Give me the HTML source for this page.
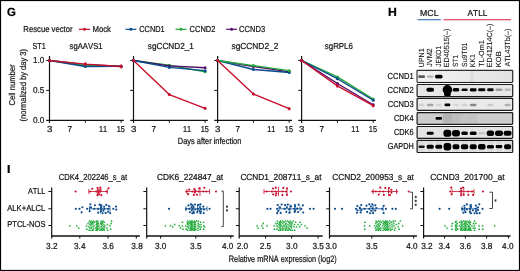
<!DOCTYPE html>
<html><head><meta charset="utf-8"><style>
html,body{margin:0;padding:0;background:#fff;}
svg{display:block;will-change:transform;font-family:"Liberation Sans",sans-serif;text-rendering:geometricPrecision;font-kerning:none;}
</style></head><body>
<svg width="520" height="271" viewBox="0 0 520 271">
<defs><linearGradient id="gr1" x1="0" x2="1" y1="0" y2="0"><stop offset="0" stop-color="#f1f1f1"/><stop offset="0.55" stop-color="#e9e9e9"/><stop offset="1" stop-color="#e2e2e2"/></linearGradient><filter id="blur" x="-20%" y="-50%" width="140%" height="200%"><feGaussianBlur stdDeviation="0.65"/></filter><clipPath id="clipCCND1"><rect x="417.7" y="70.89999999999999" width="94.4" height="10.9"/></clipPath><clipPath id="clipCCND2"><rect x="417.7" y="85.1" width="94.4" height="10.9"/></clipPath><clipPath id="clipCCND3"><rect x="417.7" y="98.89999999999999" width="94.4" height="10.8"/></clipPath><clipPath id="clipCDK4"><rect x="417.7" y="113.19999999999999" width="94.4" height="10.6"/></clipPath><clipPath id="clipCDK6"><rect x="417.7" y="127.1" width="94.4" height="10.7"/></clipPath><clipPath id="clipGAPDH"><rect x="417.7" y="141.0" width="94.4" height="10.9"/></clipPath></defs>
<rect x="0" y="0" width="520" height="271" fill="#fff"/>
<text x="6.93" y="15.6" font-size="11.8" fill="#000" stroke="#000" stroke-width="0.22" textLength="8.88" lengthAdjust="spacingAndGlyphs" font-weight="bold">G</text>
<text x="23.37" y="31.7" font-size="8.7" fill="#151515" stroke="#151515" stroke-width="0.22" textLength="49.16" lengthAdjust="spacingAndGlyphs">Rescue vector</text>
<line x1="78.90" y1="29.30" x2="90.20" y2="29.30" stroke="#c8102e" stroke-width="1.2"/>
<circle cx="84.55" cy="29.30" r="1.5" fill="#c8102e"/>
<text x="92.46" y="31.6" font-size="8.7" fill="#151515" stroke="#151515" stroke-width="0.22" textLength="18.52" lengthAdjust="spacingAndGlyphs">Mock</text>
<line x1="125.50" y1="29.30" x2="136.30" y2="29.30" stroke="#0b4a8b" stroke-width="1.2"/>
<circle cx="130.90" cy="29.30" r="1.5" fill="#0b4a8b"/>
<text x="139.23" y="31.6" font-size="8.7" fill="#151515" stroke="#151515" stroke-width="0.22" textLength="25.44" lengthAdjust="spacingAndGlyphs">CCND1</text>
<line x1="175.50" y1="29.30" x2="186.50" y2="29.30" stroke="#22aa3c" stroke-width="1.2"/>
<circle cx="181.00" cy="29.30" r="1.5" fill="#22aa3c"/>
<text x="189.62" y="31.6" font-size="8.7" fill="#151515" stroke="#151515" stroke-width="0.22" textLength="25.76" lengthAdjust="spacingAndGlyphs">CCND2</text>
<line x1="226.20" y1="29.30" x2="236.90" y2="29.30" stroke="#520c6a" stroke-width="1.2"/>
<circle cx="231.55" cy="29.30" r="1.5" fill="#520c6a"/>
<text x="239.12" y="31.6" font-size="8.7" fill="#151515" stroke="#151515" stroke-width="0.22" textLength="26.02" lengthAdjust="spacingAndGlyphs">CCND3</text>
<text x="32.57" y="49.4" font-size="8.7" fill="#151515" stroke="#151515" stroke-width="0.22" textLength="13.18" lengthAdjust="spacingAndGlyphs">ST1</text>
<text x="69.59" y="49.4" font-size="8.7" fill="#151515" stroke="#151515" stroke-width="0.22" textLength="32.99" lengthAdjust="spacingAndGlyphs">sgAAVS1</text>
<text x="147.87" y="49.4" font-size="8.7" fill="#151515" stroke="#151515" stroke-width="0.22" textLength="46.03" lengthAdjust="spacingAndGlyphs">sgCCND2_1</text>
<text x="231.47" y="49.4" font-size="8.7" fill="#151515" stroke="#151515" stroke-width="0.22" textLength="46.85" lengthAdjust="spacingAndGlyphs">sgCCND2_2</text>
<text x="324.78" y="49.4" font-size="8.7" fill="#151515" stroke="#151515" stroke-width="0.22" textLength="28.17" lengthAdjust="spacingAndGlyphs">sgRPL6</text>
<line x1="49.50" y1="55.90" x2="49.50" y2="122.90" stroke="#111" stroke-width="1.2"/>
<line x1="46.20" y1="120.30" x2="123.90" y2="120.30" stroke="#111" stroke-width="1.3"/>
<line x1="46.20" y1="60.50" x2="49.50" y2="60.50" stroke="#111" stroke-width="1.0"/>
<line x1="46.20" y1="90.40" x2="49.50" y2="90.40" stroke="#111" stroke-width="1.0"/>
<line x1="85.30" y1="120.30" x2="85.30" y2="122.80" stroke="#111" stroke-width="1.0"/>
<line x1="121.10" y1="120.30" x2="121.10" y2="122.80" stroke="#111" stroke-width="1.0"/>
<text x="46.93" y="132.1" font-size="8.7" fill="#151515" stroke="#151515" stroke-width="0.22" textLength="5.40" lengthAdjust="spacingAndGlyphs">3</text>
<text x="67.38" y="132.1" font-size="8.7" fill="#151515" stroke="#151515" stroke-width="0.22" textLength="4.53" lengthAdjust="spacingAndGlyphs">7</text>
<text x="99.04" y="132.1" font-size="8.7" fill="#151515" stroke="#151515" stroke-width="0.22" textLength="8.11" lengthAdjust="spacingAndGlyphs">11</text>
<text x="116.74" y="132.1" font-size="8.7" fill="#151515" stroke="#151515" stroke-width="0.22" textLength="8.17" lengthAdjust="spacingAndGlyphs">15</text>
<polyline points="49.50,60.50 85.30,64.69 121.10,66.18" fill="none" stroke="#520c6a" stroke-width="1.4" stroke-linejoin="round"/>
<circle cx="49.50" cy="60.50" r="1.5" fill="#520c6a"/>
<circle cx="85.30" cy="64.69" r="1.5" fill="#520c6a"/>
<circle cx="121.10" cy="66.18" r="1.5" fill="#520c6a"/>
<polyline points="49.50,60.50 85.30,65.28 121.10,66.48" fill="none" stroke="#22aa3c" stroke-width="1.4" stroke-linejoin="round"/>
<circle cx="49.50" cy="60.50" r="1.5" fill="#22aa3c"/>
<circle cx="85.30" cy="65.28" r="1.5" fill="#22aa3c"/>
<circle cx="121.10" cy="66.48" r="1.5" fill="#22aa3c"/>
<polyline points="49.50,60.50 85.30,66.48 121.10,66.18" fill="none" stroke="#0b4a8b" stroke-width="1.4" stroke-linejoin="round"/>
<circle cx="49.50" cy="60.50" r="1.5" fill="#0b4a8b"/>
<circle cx="85.30" cy="66.48" r="1.5" fill="#0b4a8b"/>
<circle cx="121.10" cy="66.18" r="1.5" fill="#0b4a8b"/>
<polyline points="49.50,60.50 85.30,64.09 121.10,66.48" fill="none" stroke="#c8102e" stroke-width="1.4" stroke-linejoin="round"/>
<circle cx="49.50" cy="60.50" r="1.5" fill="#c8102e"/>
<circle cx="85.30" cy="64.09" r="1.5" fill="#c8102e"/>
<circle cx="121.10" cy="66.48" r="1.5" fill="#c8102e"/>
<line x1="85.30" y1="61.79" x2="85.30" y2="66.39" stroke="#c8102e" stroke-width="0.9"/>
<line x1="121.10" y1="64.18" x2="121.10" y2="68.78" stroke="#c8102e" stroke-width="0.9"/>
<line x1="133.50" y1="55.90" x2="133.50" y2="122.90" stroke="#111" stroke-width="1.2"/>
<line x1="130.20" y1="120.30" x2="207.90" y2="120.30" stroke="#111" stroke-width="1.3"/>
<line x1="130.20" y1="60.50" x2="133.50" y2="60.50" stroke="#111" stroke-width="1.0"/>
<line x1="130.20" y1="90.40" x2="133.50" y2="90.40" stroke="#111" stroke-width="1.0"/>
<line x1="169.30" y1="120.30" x2="169.30" y2="122.80" stroke="#111" stroke-width="1.0"/>
<line x1="205.10" y1="120.30" x2="205.10" y2="122.80" stroke="#111" stroke-width="1.0"/>
<text x="130.93" y="132.1" font-size="8.7" fill="#151515" stroke="#151515" stroke-width="0.22" textLength="5.40" lengthAdjust="spacingAndGlyphs">3</text>
<text x="151.38" y="132.1" font-size="8.7" fill="#151515" stroke="#151515" stroke-width="0.22" textLength="4.53" lengthAdjust="spacingAndGlyphs">7</text>
<text x="183.04" y="132.1" font-size="8.7" fill="#151515" stroke="#151515" stroke-width="0.22" textLength="8.11" lengthAdjust="spacingAndGlyphs">11</text>
<text x="200.74" y="132.1" font-size="8.7" fill="#151515" stroke="#151515" stroke-width="0.22" textLength="8.17" lengthAdjust="spacingAndGlyphs">15</text>
<polyline points="133.50,60.50 169.30,65.28 205.10,71.86" fill="none" stroke="#22aa3c" stroke-width="1.4" stroke-linejoin="round"/>
<circle cx="133.50" cy="60.50" r="1.5" fill="#22aa3c"/>
<circle cx="169.30" cy="65.28" r="1.5" fill="#22aa3c"/>
<circle cx="205.10" cy="71.86" r="1.5" fill="#22aa3c"/>
<polyline points="133.50,60.50 169.30,65.88 205.10,67.68" fill="none" stroke="#520c6a" stroke-width="1.4" stroke-linejoin="round"/>
<circle cx="133.50" cy="60.50" r="1.5" fill="#520c6a"/>
<circle cx="169.30" cy="65.88" r="1.5" fill="#520c6a"/>
<circle cx="205.10" cy="67.68" r="1.5" fill="#520c6a"/>
<polyline points="133.50,60.50 169.30,67.38 205.10,70.67" fill="none" stroke="#0b4a8b" stroke-width="1.4" stroke-linejoin="round"/>
<circle cx="133.50" cy="60.50" r="1.5" fill="#0b4a8b"/>
<circle cx="169.30" cy="67.38" r="1.5" fill="#0b4a8b"/>
<circle cx="205.10" cy="70.67" r="1.5" fill="#0b4a8b"/>
<polyline points="133.50,60.50 169.30,94.59 205.10,108.34" fill="none" stroke="#c8102e" stroke-width="1.4" stroke-linejoin="round"/>
<circle cx="133.50" cy="60.50" r="1.5" fill="#c8102e"/>
<circle cx="169.30" cy="94.59" r="1.5" fill="#c8102e"/>
<circle cx="205.10" cy="108.34" r="1.5" fill="#c8102e"/>
<line x1="169.30" y1="93.09" x2="169.30" y2="96.09" stroke="#c8102e" stroke-width="0.9"/>
<line x1="205.10" y1="106.84" x2="205.10" y2="109.84" stroke="#c8102e" stroke-width="0.9"/>
<line x1="217.60" y1="55.90" x2="217.60" y2="122.90" stroke="#111" stroke-width="1.2"/>
<line x1="214.30" y1="120.30" x2="292.00" y2="120.30" stroke="#111" stroke-width="1.3"/>
<line x1="214.30" y1="60.50" x2="217.60" y2="60.50" stroke="#111" stroke-width="1.0"/>
<line x1="214.30" y1="90.40" x2="217.60" y2="90.40" stroke="#111" stroke-width="1.0"/>
<line x1="253.40" y1="120.30" x2="253.40" y2="122.80" stroke="#111" stroke-width="1.0"/>
<line x1="289.20" y1="120.30" x2="289.20" y2="122.80" stroke="#111" stroke-width="1.0"/>
<text x="215.03" y="132.1" font-size="8.7" fill="#151515" stroke="#151515" stroke-width="0.22" textLength="5.40" lengthAdjust="spacingAndGlyphs">3</text>
<text x="235.48" y="132.1" font-size="8.7" fill="#151515" stroke="#151515" stroke-width="0.22" textLength="4.53" lengthAdjust="spacingAndGlyphs">7</text>
<text x="267.14" y="132.1" font-size="8.7" fill="#151515" stroke="#151515" stroke-width="0.22" textLength="8.11" lengthAdjust="spacingAndGlyphs">11</text>
<text x="284.84" y="132.1" font-size="8.7" fill="#151515" stroke="#151515" stroke-width="0.22" textLength="8.17" lengthAdjust="spacingAndGlyphs">15</text>
<polyline points="217.60,60.50 253.40,66.48 289.20,71.86" fill="none" stroke="#520c6a" stroke-width="1.4" stroke-linejoin="round"/>
<circle cx="217.60" cy="60.50" r="1.5" fill="#520c6a"/>
<circle cx="253.40" cy="66.48" r="1.5" fill="#520c6a"/>
<circle cx="289.20" cy="71.86" r="1.5" fill="#520c6a"/>
<polyline points="217.60,60.50 253.40,69.47 289.20,72.46" fill="none" stroke="#0b4a8b" stroke-width="1.4" stroke-linejoin="round"/>
<circle cx="217.60" cy="60.50" r="1.5" fill="#0b4a8b"/>
<circle cx="253.40" cy="69.47" r="1.5" fill="#0b4a8b"/>
<circle cx="289.20" cy="72.46" r="1.5" fill="#0b4a8b"/>
<polyline points="217.60,60.50 253.40,65.58 289.20,70.67" fill="none" stroke="#22aa3c" stroke-width="1.4" stroke-linejoin="round"/>
<circle cx="217.60" cy="60.50" r="1.5" fill="#22aa3c"/>
<circle cx="253.40" cy="65.58" r="1.5" fill="#22aa3c"/>
<circle cx="289.20" cy="70.67" r="1.5" fill="#22aa3c"/>
<polyline points="217.60,60.50 253.40,93.99 289.20,108.64" fill="none" stroke="#c8102e" stroke-width="1.4" stroke-linejoin="round"/>
<circle cx="217.60" cy="60.50" r="1.5" fill="#c8102e"/>
<circle cx="253.40" cy="93.99" r="1.5" fill="#c8102e"/>
<circle cx="289.20" cy="108.64" r="1.5" fill="#c8102e"/>
<line x1="253.40" y1="92.49" x2="253.40" y2="95.49" stroke="#c8102e" stroke-width="0.9"/>
<line x1="289.20" y1="107.14" x2="289.20" y2="110.14" stroke="#c8102e" stroke-width="0.9"/>
<line x1="301.60" y1="55.90" x2="301.60" y2="122.90" stroke="#111" stroke-width="1.2"/>
<line x1="298.30" y1="120.30" x2="376.00" y2="120.30" stroke="#111" stroke-width="1.3"/>
<line x1="298.30" y1="60.50" x2="301.60" y2="60.50" stroke="#111" stroke-width="1.0"/>
<line x1="298.30" y1="90.40" x2="301.60" y2="90.40" stroke="#111" stroke-width="1.0"/>
<line x1="337.40" y1="120.30" x2="337.40" y2="122.80" stroke="#111" stroke-width="1.0"/>
<line x1="373.20" y1="120.30" x2="373.20" y2="122.80" stroke="#111" stroke-width="1.0"/>
<text x="299.03" y="132.1" font-size="8.7" fill="#151515" stroke="#151515" stroke-width="0.22" textLength="5.40" lengthAdjust="spacingAndGlyphs">3</text>
<text x="319.48" y="132.1" font-size="8.7" fill="#151515" stroke="#151515" stroke-width="0.22" textLength="4.53" lengthAdjust="spacingAndGlyphs">7</text>
<text x="351.14" y="132.1" font-size="8.7" fill="#151515" stroke="#151515" stroke-width="0.22" textLength="8.11" lengthAdjust="spacingAndGlyphs">11</text>
<text x="368.84" y="132.1" font-size="8.7" fill="#151515" stroke="#151515" stroke-width="0.22" textLength="8.17" lengthAdjust="spacingAndGlyphs">15</text>
<polyline points="301.60,60.50 337.40,76.94 373.20,99.07" fill="none" stroke="#22aa3c" stroke-width="1.4" stroke-linejoin="round"/>
<circle cx="301.60" cy="60.50" r="1.5" fill="#22aa3c"/>
<circle cx="337.40" cy="76.94" r="1.5" fill="#22aa3c"/>
<circle cx="373.20" cy="99.07" r="1.5" fill="#22aa3c"/>
<polyline points="301.60,60.50 337.40,78.74 373.20,100.27" fill="none" stroke="#0b4a8b" stroke-width="1.4" stroke-linejoin="round"/>
<circle cx="301.60" cy="60.50" r="1.5" fill="#0b4a8b"/>
<circle cx="337.40" cy="78.74" r="1.5" fill="#0b4a8b"/>
<circle cx="373.20" cy="100.27" r="1.5" fill="#0b4a8b"/>
<polyline points="301.60,60.50 337.40,83.52 373.20,104.75" fill="none" stroke="#520c6a" stroke-width="1.4" stroke-linejoin="round"/>
<circle cx="301.60" cy="60.50" r="1.5" fill="#520c6a"/>
<circle cx="337.40" cy="83.52" r="1.5" fill="#520c6a"/>
<circle cx="373.20" cy="104.75" r="1.5" fill="#520c6a"/>
<polyline points="301.60,60.50 337.40,85.91 373.20,105.65" fill="none" stroke="#c8102e" stroke-width="1.4" stroke-linejoin="round"/>
<circle cx="301.60" cy="60.50" r="1.5" fill="#c8102e"/>
<circle cx="337.40" cy="85.91" r="1.5" fill="#c8102e"/>
<circle cx="373.20" cy="105.65" r="1.5" fill="#c8102e"/>
<line x1="337.40" y1="84.41" x2="337.40" y2="87.41" stroke="#c8102e" stroke-width="0.9"/>
<line x1="373.20" y1="104.15" x2="373.20" y2="107.15" stroke="#c8102e" stroke-width="0.9"/>
<text x="32.98" y="63.3" font-size="8.7" fill="#151515" stroke="#151515" stroke-width="0.22" textLength="11.34" lengthAdjust="spacingAndGlyphs">1.0</text>
<text x="32.88" y="93.2" font-size="8.7" fill="#151515" stroke="#151515" stroke-width="0.22" textLength="11.47" lengthAdjust="spacingAndGlyphs">0.5</text>
<text x="32.88" y="123.1" font-size="8.7" fill="#151515" stroke="#151515" stroke-width="0.22" textLength="11.44" lengthAdjust="spacingAndGlyphs">0.0</text>
<text x="177.79" y="144" font-size="8.9" fill="#151515" stroke="#151515" stroke-width="0.22" textLength="63.59" lengthAdjust="spacingAndGlyphs">Days after infection</text>
<text transform="translate(14.6,105.2) rotate(-90)" x="-0.39" y="0" font-size="8.6" fill="#151515" stroke="#151515" stroke-width="0.22" textLength="41.11" lengthAdjust="spacingAndGlyphs">Cell number</text>
<text transform="translate(26.4,121) rotate(-90)" x="-0.47" y="0" font-size="8.6" fill="#151515" stroke="#151515" stroke-width="0.22" textLength="72.54" lengthAdjust="spacingAndGlyphs">(normalized by day 3)</text>
<text x="387.98" y="15.5" font-size="12" fill="#000" stroke="#000" stroke-width="0.22" textLength="8.84" lengthAdjust="spacingAndGlyphs" font-weight="bold">H</text>
<text x="420.08" y="15.5" font-size="8.7" fill="#151515" stroke="#151515" stroke-width="0.22" textLength="18.40" lengthAdjust="spacingAndGlyphs">MCL</text>
<text x="467.58" y="15.5" font-size="8.7" fill="#151515" stroke="#151515" stroke-width="0.22" textLength="19.79" lengthAdjust="spacingAndGlyphs">ATLL</text>
<line x1="417.50" y1="19.70" x2="440.80" y2="19.70" stroke="#2b6cb0" stroke-width="1.1"/>
<line x1="443.40" y1="19.70" x2="511.00" y2="19.70" stroke="#d4233f" stroke-width="1.1"/>
<text transform="translate(423.6,66.6) rotate(-90)" x="-0.54" y="0" font-size="7.4" fill="#151515" stroke="#151515" stroke-width="0.1" textLength="18.68" lengthAdjust="spacingAndGlyphs">UPN1</text>
<text transform="translate(432.19,66.6) rotate(-90)" x="-0.11" y="0" font-size="7.4" fill="#151515" stroke="#151515" stroke-width="0.1" textLength="18.27" lengthAdjust="spacingAndGlyphs">JVM2</text>
<text transform="translate(440.78,66.6) rotate(-90)" x="-0.10" y="0" font-size="7.4" fill="#151515" stroke="#151515" stroke-width="0.1" textLength="20.72" lengthAdjust="spacingAndGlyphs">JEKO1</text>
<text transform="translate(449.37,66.6) rotate(-90)" x="-0.59" y="0" font-size="7.4" fill="#151515" stroke="#151515" stroke-width="0.1" textLength="38.53" lengthAdjust="spacingAndGlyphs">ED40515(–)</text>
<text transform="translate(457.96,66.6) rotate(-90)" x="-0.30" y="0" font-size="7.4" fill="#151515" stroke="#151515" stroke-width="0.1" textLength="12.02" lengthAdjust="spacingAndGlyphs">ST1</text>
<text transform="translate(466.55,66.6) rotate(-90)" x="-0.31" y="0" font-size="7.4" fill="#151515" stroke="#151515" stroke-width="0.1" textLength="24.25" lengthAdjust="spacingAndGlyphs">Su9T01</text>
<text transform="translate(475.14,66.6) rotate(-90)" x="-0.56" y="0" font-size="7.4" fill="#151515" stroke="#151515" stroke-width="0.1" textLength="13.00" lengthAdjust="spacingAndGlyphs">KK1</text>
<text transform="translate(483.73,66.6) rotate(-90)" x="-0.16" y="0" font-size="7.4" fill="#151515" stroke="#151515" stroke-width="0.1" textLength="26.52" lengthAdjust="spacingAndGlyphs">TL-Om1</text>
<text transform="translate(492.32,66.6) rotate(-90)" x="-0.58" y="0" font-size="7.4" fill="#151515" stroke="#151515" stroke-width="0.1" textLength="43.53" lengthAdjust="spacingAndGlyphs">ED41214C(–)</text>
<text transform="translate(500.91,66.6) rotate(-90)" x="-0.62" y="0" font-size="7.4" fill="#151515" stroke="#151515" stroke-width="0.1" textLength="15.92" lengthAdjust="spacingAndGlyphs">KOB</text>
<text transform="translate(509.5,66.6) rotate(-90)" x="-0.01" y="0" font-size="7.4" fill="#151515" stroke="#151515" stroke-width="0.1" textLength="37.96" lengthAdjust="spacingAndGlyphs">ATL43Tb(–)</text>
<text x="387.62" y="79.2" font-size="8.7" fill="#151515" stroke="#151515" stroke-width="0.22" textLength="26.05" lengthAdjust="spacingAndGlyphs">CCND1</text>
<text x="387.62" y="92.9" font-size="8.7" fill="#151515" stroke="#151515" stroke-width="0.22" textLength="26.06" lengthAdjust="spacingAndGlyphs">CCND2</text>
<text x="387.72" y="107.2" font-size="8.7" fill="#151515" stroke="#151515" stroke-width="0.22" textLength="25.91" lengthAdjust="spacingAndGlyphs">CCND3</text>
<text x="393.93" y="121.1" font-size="8.7" fill="#151515" stroke="#151515" stroke-width="0.22" textLength="19.59" lengthAdjust="spacingAndGlyphs">CDK4</text>
<text x="393.92" y="134.8" font-size="8.7" fill="#151515" stroke="#151515" stroke-width="0.22" textLength="19.70" lengthAdjust="spacingAndGlyphs">CDK6</text>
<text x="387.73" y="148.6" font-size="8.7" fill="#151515" stroke="#151515" stroke-width="0.22" textLength="26.17" lengthAdjust="spacingAndGlyphs">GAPDH</text>
<rect x="417.1" y="70.3" width="95.6" height="12.1" rx="0.8" fill="#e9e9e9" stroke="#1a1a1a" stroke-width="1.2"/>
<rect x="417.7" y="70.89999999999999" width="94.4" height="10.9" fill="url(#gr1)"/>
<rect x="470.5" y="70.89999999999999" width="3" height="10.9" fill="#000" fill-opacity="0.06" filter="url(#blur)"/>
<g clip-path="url(#clipCCND1)" filter="url(#blur)">
<rect x="418.20" y="75.20" width="6.8" height="2.8" rx="1.26" fill="#000" fill-opacity="0.62"/>
<rect x="426.95" y="75.40" width="6.5" height="2.4" rx="1.08" fill="#000" fill-opacity="0.25"/>
<rect x="435.00" y="74.80" width="7.6" height="3.6" rx="1.62" fill="#000" fill-opacity="1.0"/>
</g>
<rect x="417.1" y="84.5" width="95.6" height="12.1" rx="0.8" fill="#e6e6e6" stroke="#1a1a1a" stroke-width="1.2"/>
<g clip-path="url(#clipCCND2)" filter="url(#blur)">
<rect x="426.40" y="87.80" width="7.6" height="4" rx="1.80" fill="#000" fill-opacity="1.0"/>
<rect x="452.70" y="88.10" width="6.6" height="3.4" rx="1.53" fill="#000" fill-opacity="1.0"/>
<rect x="461.50" y="88.50" width="6.2" height="2.6" rx="1.17" fill="#000" fill-opacity="0.95"/>
<rect x="469.80" y="88.20" width="6.8" height="3.2" rx="1.44" fill="#000" fill-opacity="1.0"/>
<rect x="478.20" y="88.30" width="7.2" height="3" rx="1.35" fill="#000" fill-opacity="1.0"/>
<rect x="487.10" y="88.30" width="6.6" height="3" rx="1.35" fill="#000" fill-opacity="0.95"/>
<rect x="495.50" y="88.55" width="7" height="2.5" rx="1.12" fill="#000" fill-opacity="0.32"/>
<rect x="504.50" y="88.55" width="6.2" height="2.5" rx="1.12" fill="#000" fill-opacity="0.2"/>
<ellipse cx="447.40" cy="89.8" rx="4.8" ry="4.7" fill="#000"/>
<rect x="444.10" y="89" width="6.6" height="7.6" rx="2" fill="#000"/>
</g>
<rect x="417.1" y="98.3" width="95.6" height="12.0" rx="0.8" fill="#eaeaea" stroke="#1a1a1a" stroke-width="1.2"/>
<g clip-path="url(#clipCCND3)" filter="url(#blur)">
<rect x="418.60" y="103.65" width="6" height="2.5" rx="1.12" fill="#000" fill-opacity="0.1"/>
<rect x="426.95" y="103.65" width="6.5" height="2.5" rx="1.12" fill="#000" fill-opacity="0.3"/>
<rect x="435.80" y="103.65" width="6" height="2.5" rx="1.12" fill="#000" fill-opacity="0.1"/>
<rect x="444.50" y="103.60" width="5.8" height="2.6" rx="1.17" fill="#000" fill-opacity="1.0"/>
<rect x="453.00" y="103.65" width="6" height="2.5" rx="1.12" fill="#000" fill-opacity="0.08"/>
<rect x="461.60" y="103.65" width="6" height="2.5" rx="1.12" fill="#000" fill-opacity="0.1"/>
<rect x="469.95" y="103.65" width="6.5" height="2.5" rx="1.12" fill="#000" fill-opacity="0.42"/>
<rect x="487.40" y="103.65" width="6" height="2.5" rx="1.12" fill="#000" fill-opacity="0.15"/>
<rect x="504.60" y="103.65" width="6" height="2.5" rx="1.12" fill="#000" fill-opacity="0.25"/>
</g>
<rect x="417.1" y="112.6" width="95.6" height="11.8" rx="0.8" fill="#cdcdcd" stroke="#1a1a1a" stroke-width="1.2"/>
<g clip-path="url(#clipCDK4)" filter="url(#blur)">
<rect x="435.55" y="117.10" width="6.5" height="2.6" rx="1.17" fill="#000" fill-opacity="1.0"/>
<rect x="442.90" y="113.40" width="9" height="10" rx="2.00" fill="#000" fill-opacity="0.12"/>
<rect x="451.50" y="113.40" width="9" height="10" rx="2.00" fill="#000" fill-opacity="0.08"/>
<rect x="460.10" y="113.40" width="9" height="10" rx="2.00" fill="#000" fill-opacity="0.04"/>
<rect x="468.70" y="113.40" width="9" height="10" rx="2.00" fill="#000" fill-opacity="0.05"/>
</g>
<rect x="417.1" y="126.5" width="95.6" height="11.9" rx="0.8" fill="#e4e4e4" stroke="#1a1a1a" stroke-width="1.2"/>
<g clip-path="url(#clipCDK6)" filter="url(#blur)">
<rect x="426.70" y="131.80" width="7" height="3" rx="1.35" fill="#000" fill-opacity="1.0"/>
<rect x="443.40" y="129.80" width="8" height="7" rx="3.15" fill="#000" fill-opacity="1.0"/>
<rect x="452.00" y="130.05" width="8" height="6.5" rx="2.93" fill="#000" fill-opacity="1.0"/>
<rect x="461.35" y="131.55" width="6.5" height="3.5" rx="1.57" fill="#000" fill-opacity="1.0"/>
<rect x="469.80" y="131.55" width="6.8" height="3.5" rx="1.57" fill="#000" fill-opacity="1.0"/>
<rect x="478.55" y="132.05" width="6.5" height="2.5" rx="1.12" fill="#000" fill-opacity="0.14"/>
<rect x="486.65" y="130.50" width="7.5" height="5.6" rx="2.52" fill="#000" fill-opacity="1.0"/>
<rect x="495.00" y="130.50" width="8" height="5.6" rx="2.52" fill="#000" fill-opacity="1.0"/>
<rect x="503.60" y="130.80" width="8" height="5" rx="2.25" fill="#000" fill-opacity="1.0"/>
</g>
<rect x="417.1" y="140.4" width="95.6" height="12.1" rx="0.8" fill="#dcdcdc" stroke="#1a1a1a" stroke-width="1.2"/>
<g clip-path="url(#clipGAPDH)" filter="url(#blur)">
<rect x="418.50" y="145.40" width="6.2" height="2.6" rx="1.17" fill="#000" fill-opacity="0.9"/>
<rect x="426.45" y="144.70" width="7.5" height="4" rx="1.80" fill="#000" fill-opacity="1.0"/>
<rect x="435.20" y="144.70" width="7.2" height="4" rx="1.80" fill="#000" fill-opacity="1.0"/>
<rect x="443.30" y="142.95" width="8.2" height="7.5" rx="3.38" fill="#000" fill-opacity="1.0"/>
<rect x="452.40" y="144.20" width="7.2" height="5" rx="2.25" fill="#000" fill-opacity="1.0"/>
<rect x="460.80" y="144.20" width="7.6" height="5" rx="2.25" fill="#000" fill-opacity="1.0"/>
<rect x="469.50" y="144.20" width="7.4" height="5" rx="2.25" fill="#000" fill-opacity="1.0"/>
<rect x="477.80" y="143.90" width="8" height="5.6" rx="2.52" fill="#000" fill-opacity="1.0"/>
<rect x="486.80" y="144.90" width="7.2" height="3.6" rx="1.62" fill="#000" fill-opacity="1.0"/>
<rect x="495.60" y="145.10" width="6.8" height="3.2" rx="1.44" fill="#000" fill-opacity="1.0"/>
<rect x="504.00" y="144.20" width="7.2" height="5" rx="2.25" fill="#000" fill-opacity="1.0"/>
<rect x="425.20" y="140.4" width="1.4" height="12.099999999999994" fill="#fff" fill-opacity="0.45"/>
<rect x="433.80" y="140.4" width="1.4" height="12.099999999999994" fill="#fff" fill-opacity="0.45"/>
<rect x="442.40" y="140.4" width="1.4" height="12.099999999999994" fill="#fff" fill-opacity="0.45"/>
<rect x="451.00" y="140.4" width="1.4" height="12.099999999999994" fill="#fff" fill-opacity="0.45"/>
<rect x="459.60" y="140.4" width="1.4" height="12.099999999999994" fill="#fff" fill-opacity="0.45"/>
<rect x="468.20" y="140.4" width="1.4" height="12.099999999999994" fill="#fff" fill-opacity="0.45"/>
<rect x="476.80" y="140.4" width="1.4" height="12.099999999999994" fill="#fff" fill-opacity="0.45"/>
<rect x="485.40" y="140.4" width="1.4" height="12.099999999999994" fill="#fff" fill-opacity="0.45"/>
<rect x="494.00" y="140.4" width="1.4" height="12.099999999999994" fill="#fff" fill-opacity="0.45"/>
<rect x="502.60" y="140.4" width="1.4" height="12.099999999999994" fill="#fff" fill-opacity="0.45"/>
</g>
<text x="7.06" y="172.9" font-size="11.5" fill="#000" stroke="#000" stroke-width="0.22" textLength="3.47" lengthAdjust="spacingAndGlyphs" font-weight="bold">I</text>
<text x="27.89" y="193.8" font-size="8.7" fill="#151515" stroke="#151515" stroke-width="0.22" textLength="17.46" lengthAdjust="spacingAndGlyphs">ATLL</text>
<text x="7.19" y="211" font-size="8.7" fill="#151515" stroke="#151515" stroke-width="0.22" textLength="38.17" lengthAdjust="spacingAndGlyphs">ALK+ALCL</text>
<text x="7.28" y="227.4" font-size="8.7" fill="#151515" stroke="#151515" stroke-width="0.22" textLength="38.17" lengthAdjust="spacingAndGlyphs">PTCL-NOS</text>
<line x1="51.70" y1="187.40" x2="51.70" y2="238.60" stroke="#111" stroke-width="1.2"/>
<line x1="51.70" y1="236.00" x2="139.90" y2="236.00" stroke="#111" stroke-width="1.3"/>
<line x1="48.40" y1="191.50" x2="51.70" y2="191.50" stroke="#111" stroke-width="1.0"/>
<line x1="48.40" y1="208.80" x2="51.70" y2="208.80" stroke="#111" stroke-width="1.0"/>
<line x1="48.40" y1="225.50" x2="51.70" y2="225.50" stroke="#111" stroke-width="1.0"/>
<line x1="79.80" y1="236.00" x2="79.80" y2="238.60" stroke="#111" stroke-width="1.0"/>
<line x1="108.10" y1="236.00" x2="108.10" y2="238.60" stroke="#111" stroke-width="1.0"/>
<line x1="136.30" y1="236.00" x2="136.30" y2="238.60" stroke="#111" stroke-width="1.0"/>
<text x="46.08" y="249.2" font-size="8.7" fill="#151515" stroke="#151515" stroke-width="0.22" textLength="11.53" lengthAdjust="spacingAndGlyphs">3.2</text>
<text x="74.09" y="249.2" font-size="8.7" fill="#151515" stroke="#151515" stroke-width="0.22" textLength="11.35" lengthAdjust="spacingAndGlyphs">3.4</text>
<text x="102.39" y="249.2" font-size="8.7" fill="#151515" stroke="#151515" stroke-width="0.22" textLength="11.48" lengthAdjust="spacingAndGlyphs">3.6</text>
<text x="131.29" y="249.2" font-size="8.7" fill="#151515" stroke="#151515" stroke-width="0.22" textLength="11.47" lengthAdjust="spacingAndGlyphs">3.8</text>
<text x="58.81" y="179.5" font-size="8.7" fill="#151515" stroke="#151515" stroke-width="0.22" textLength="68.34" lengthAdjust="spacingAndGlyphs">CDK4_202246_s_at</text>
<line x1="146.70" y1="187.40" x2="146.70" y2="238.60" stroke="#111" stroke-width="1.2"/>
<line x1="146.70" y1="236.00" x2="233.70" y2="236.00" stroke="#111" stroke-width="1.3"/>
<line x1="143.40" y1="191.50" x2="146.70" y2="191.50" stroke="#111" stroke-width="1.0"/>
<line x1="143.40" y1="208.80" x2="146.70" y2="208.80" stroke="#111" stroke-width="1.0"/>
<line x1="143.40" y1="225.50" x2="146.70" y2="225.50" stroke="#111" stroke-width="1.0"/>
<line x1="160.60" y1="236.00" x2="160.60" y2="238.60" stroke="#111" stroke-width="1.0"/>
<line x1="195.80" y1="236.00" x2="195.80" y2="238.60" stroke="#111" stroke-width="1.0"/>
<line x1="230.80" y1="236.00" x2="230.80" y2="238.60" stroke="#111" stroke-width="1.0"/>
<text x="154.99" y="249.2" font-size="8.7" fill="#151515" stroke="#151515" stroke-width="0.22" textLength="11.43" lengthAdjust="spacingAndGlyphs">3.0</text>
<text x="190.09" y="249.2" font-size="8.7" fill="#151515" stroke="#151515" stroke-width="0.22" textLength="11.46" lengthAdjust="spacingAndGlyphs">3.5</text>
<text x="221.91" y="249.2" font-size="8.7" fill="#151515" stroke="#151515" stroke-width="0.22" textLength="11.30" lengthAdjust="spacingAndGlyphs">4.0</text>
<text x="156.88" y="179.5" font-size="8.7" fill="#151515" stroke="#151515" stroke-width="0.22" textLength="66.28" lengthAdjust="spacingAndGlyphs">CDK6_224847_at</text>
<line x1="239.20" y1="187.40" x2="239.20" y2="238.60" stroke="#111" stroke-width="1.2"/>
<line x1="239.20" y1="236.00" x2="322.70" y2="236.00" stroke="#111" stroke-width="1.3"/>
<line x1="235.90" y1="191.50" x2="239.20" y2="191.50" stroke="#111" stroke-width="1.0"/>
<line x1="235.90" y1="208.80" x2="239.20" y2="208.80" stroke="#111" stroke-width="1.0"/>
<line x1="235.90" y1="225.50" x2="239.20" y2="225.50" stroke="#111" stroke-width="1.0"/>
<line x1="265.60" y1="236.00" x2="265.60" y2="238.60" stroke="#111" stroke-width="1.0"/>
<line x1="291.60" y1="236.00" x2="291.60" y2="238.60" stroke="#111" stroke-width="1.0"/>
<line x1="318.10" y1="236.00" x2="318.10" y2="238.60" stroke="#111" stroke-width="1.0"/>
<text x="236.68" y="249.2" font-size="8.7" fill="#151515" stroke="#151515" stroke-width="0.22" textLength="11.54" lengthAdjust="spacingAndGlyphs">2.0</text>
<text x="259.68" y="249.2" font-size="8.7" fill="#151515" stroke="#151515" stroke-width="0.22" textLength="11.57" lengthAdjust="spacingAndGlyphs">2.5</text>
<text x="286.09" y="249.2" font-size="8.7" fill="#151515" stroke="#151515" stroke-width="0.22" textLength="11.43" lengthAdjust="spacingAndGlyphs">3.0</text>
<text x="312.39" y="249.2" font-size="8.7" fill="#151515" stroke="#151515" stroke-width="0.22" textLength="11.46" lengthAdjust="spacingAndGlyphs">3.5</text>
<text x="240.38" y="179.5" font-size="8.7" fill="#151515" stroke="#151515" stroke-width="0.22" textLength="81.18" lengthAdjust="spacingAndGlyphs">CCND1_208711_s_at</text>
<line x1="329.50" y1="187.40" x2="329.50" y2="238.60" stroke="#111" stroke-width="1.2"/>
<line x1="329.50" y1="236.00" x2="416.90" y2="236.00" stroke="#111" stroke-width="1.3"/>
<line x1="326.20" y1="191.50" x2="329.50" y2="191.50" stroke="#111" stroke-width="1.0"/>
<line x1="326.20" y1="208.80" x2="329.50" y2="208.80" stroke="#111" stroke-width="1.0"/>
<line x1="326.20" y1="225.50" x2="329.50" y2="225.50" stroke="#111" stroke-width="1.0"/>
<line x1="371.80" y1="236.00" x2="371.80" y2="238.60" stroke="#111" stroke-width="1.0"/>
<line x1="413.70" y1="236.00" x2="413.70" y2="238.60" stroke="#111" stroke-width="1.0"/>
<text x="325.49" y="249.2" font-size="8.7" fill="#151515" stroke="#151515" stroke-width="0.22" textLength="11.43" lengthAdjust="spacingAndGlyphs">3.0</text>
<text x="366.09" y="249.2" font-size="8.7" fill="#151515" stroke="#151515" stroke-width="0.22" textLength="11.46" lengthAdjust="spacingAndGlyphs">3.5</text>
<text x="406.21" y="249.2" font-size="8.7" fill="#151515" stroke="#151515" stroke-width="0.22" textLength="11.30" lengthAdjust="spacingAndGlyphs">4.0</text>
<text x="332.28" y="179.5" font-size="8.7" fill="#151515" stroke="#151515" stroke-width="0.22" textLength="81.58" lengthAdjust="spacingAndGlyphs">CCND2_200953_s_at</text>
<line x1="423.60" y1="187.40" x2="423.60" y2="238.60" stroke="#111" stroke-width="1.2"/>
<line x1="423.60" y1="236.00" x2="510.50" y2="236.00" stroke="#111" stroke-width="1.3"/>
<line x1="420.30" y1="191.50" x2="423.60" y2="191.50" stroke="#111" stroke-width="1.0"/>
<line x1="420.30" y1="208.80" x2="423.60" y2="208.80" stroke="#111" stroke-width="1.0"/>
<line x1="420.30" y1="225.50" x2="423.60" y2="225.50" stroke="#111" stroke-width="1.0"/>
<line x1="444.50" y1="236.00" x2="444.50" y2="238.60" stroke="#111" stroke-width="1.0"/>
<line x1="465.40" y1="236.00" x2="465.40" y2="238.60" stroke="#111" stroke-width="1.0"/>
<line x1="486.60" y1="236.00" x2="486.60" y2="238.60" stroke="#111" stroke-width="1.0"/>
<line x1="508.40" y1="236.00" x2="508.40" y2="238.60" stroke="#111" stroke-width="1.0"/>
<text x="421.18" y="249.2" font-size="8.7" fill="#151515" stroke="#151515" stroke-width="0.22" textLength="11.53" lengthAdjust="spacingAndGlyphs">3.2</text>
<text x="438.59" y="249.2" font-size="8.7" fill="#151515" stroke="#151515" stroke-width="0.22" textLength="11.35" lengthAdjust="spacingAndGlyphs">3.4</text>
<text x="459.69" y="249.2" font-size="8.7" fill="#151515" stroke="#151515" stroke-width="0.22" textLength="11.48" lengthAdjust="spacingAndGlyphs">3.6</text>
<text x="480.89" y="249.2" font-size="8.7" fill="#151515" stroke="#151515" stroke-width="0.22" textLength="11.47" lengthAdjust="spacingAndGlyphs">3.8</text>
<text x="502.11" y="249.2" font-size="8.7" fill="#151515" stroke="#151515" stroke-width="0.22" textLength="11.30" lengthAdjust="spacingAndGlyphs">4.0</text>
<text x="430.17" y="179.5" font-size="8.7" fill="#151515" stroke="#151515" stroke-width="0.22" textLength="74.50" lengthAdjust="spacingAndGlyphs">CCND3_201700_at</text>
<text x="228.80" y="261.6" font-size="9.3" fill="#151515" stroke="#151515" stroke-width="0.22" textLength="107.95" lengthAdjust="spacingAndGlyphs">Relative mRNA expression (log2)</text>
<circle cx="75.60" cy="191.50" r="1.08" fill="#c8102e"/>
<circle cx="90.32" cy="191.50" r="1.08" fill="#c8102e"/>
<circle cx="92.26" cy="188.74" r="1.08" fill="#c8102e"/>
<circle cx="96.19" cy="191.50" r="1.08" fill="#c8102e"/>
<circle cx="97.61" cy="195.19" r="1.08" fill="#c8102e"/>
<circle cx="97.62" cy="188.12" r="1.08" fill="#c8102e"/>
<circle cx="98.66" cy="192.65" r="1.08" fill="#c8102e"/>
<circle cx="98.68" cy="190.44" r="1.08" fill="#c8102e"/>
<circle cx="99.16" cy="194.28" r="1.08" fill="#c8102e"/>
<circle cx="100.30" cy="187.70" r="1.08" fill="#c8102e"/>
<circle cx="100.48" cy="191.59" r="1.08" fill="#c8102e"/>
<circle cx="100.49" cy="189.69" r="1.08" fill="#c8102e"/>
<circle cx="101.30" cy="195.14" r="1.08" fill="#c8102e"/>
<circle cx="106.47" cy="191.50" r="1.08" fill="#c8102e"/>
<circle cx="108.50" cy="188.27" r="1.08" fill="#c8102e"/>
<line x1="88.80" y1="191.50" x2="107.30" y2="191.50" stroke="#c8102e" stroke-width="0.8"/>
<line x1="88.80" y1="189.00" x2="88.80" y2="194.00" stroke="#c8102e" stroke-width="0.8"/>
<line x1="107.30" y1="189.00" x2="107.30" y2="194.00" stroke="#c8102e" stroke-width="0.8"/>
<line x1="97.40" y1="187.00" x2="97.40" y2="196.00" stroke="#c8102e" stroke-width="0.8"/>
<circle cx="75.80" cy="208.80" r="1.08" fill="#0b4a8b"/>
<circle cx="79.50" cy="208.80" r="1.08" fill="#0b4a8b"/>
<circle cx="81.61" cy="212.31" r="1.08" fill="#0b4a8b"/>
<circle cx="82.35" cy="207.23" r="1.08" fill="#0b4a8b"/>
<circle cx="87.24" cy="208.80" r="1.08" fill="#0b4a8b"/>
<circle cx="89.70" cy="211.21" r="1.08" fill="#0b4a8b"/>
<circle cx="90.33" cy="204.36" r="1.08" fill="#0b4a8b"/>
<circle cx="91.01" cy="207.41" r="1.08" fill="#0b4a8b"/>
<circle cx="94.23" cy="208.80" r="1.08" fill="#0b4a8b"/>
<circle cx="94.89" cy="205.29" r="1.08" fill="#0b4a8b"/>
<circle cx="98.06" cy="208.80" r="1.08" fill="#0b4a8b"/>
<circle cx="98.25" cy="212.63" r="1.08" fill="#0b4a8b"/>
<circle cx="99.57" cy="204.68" r="1.08" fill="#0b4a8b"/>
<circle cx="101.02" cy="211.30" r="1.08" fill="#0b4a8b"/>
<circle cx="101.17" cy="207.43" r="1.08" fill="#0b4a8b"/>
<circle cx="101.33" cy="209.36" r="1.08" fill="#0b4a8b"/>
<circle cx="101.43" cy="205.40" r="1.08" fill="#0b4a8b"/>
<circle cx="102.55" cy="213.21" r="1.08" fill="#0b4a8b"/>
<circle cx="103.36" cy="210.69" r="1.08" fill="#0b4a8b"/>
<circle cx="104.06" cy="206.72" r="1.08" fill="#0b4a8b"/>
<circle cx="104.45" cy="208.87" r="1.08" fill="#0b4a8b"/>
<circle cx="105.64" cy="212.92" r="1.08" fill="#0b4a8b"/>
<circle cx="106.31" cy="204.94" r="1.08" fill="#0b4a8b"/>
<circle cx="108.06" cy="208.80" r="1.08" fill="#0b4a8b"/>
<circle cx="108.17" cy="211.64" r="1.08" fill="#0b4a8b"/>
<circle cx="108.94" cy="206.08" r="1.08" fill="#0b4a8b"/>
<circle cx="110.13" cy="213.08" r="1.08" fill="#0b4a8b"/>
<circle cx="113.30" cy="208.80" r="1.08" fill="#0b4a8b"/>
<circle cx="115.98" cy="206.56" r="1.08" fill="#0b4a8b"/>
<circle cx="116.25" cy="209.58" r="1.08" fill="#0b4a8b"/>
<line x1="89.50" y1="208.80" x2="110.00" y2="208.80" stroke="#0b4a8b" stroke-width="0.8"/>
<line x1="89.50" y1="206.30" x2="89.50" y2="211.30" stroke="#0b4a8b" stroke-width="0.8"/>
<line x1="110.00" y1="206.30" x2="110.00" y2="211.30" stroke="#0b4a8b" stroke-width="0.8"/>
<line x1="100.50" y1="204.30" x2="100.50" y2="213.30" stroke="#0b4a8b" stroke-width="0.8"/>
<path d="M68.67,226.45L69.82,224.40L70.97,226.45Z" fill="#22aa3c"/>
<path d="M75.65,226.45L76.80,224.40L77.95,226.45Z" fill="#22aa3c"/>
<path d="M77.58,228.75L78.73,226.70L79.88,228.75Z" fill="#22aa3c"/>
<path d="M85.37,226.45L86.52,224.40L87.67,226.45Z" fill="#22aa3c"/>
<path d="M85.64,229.90L86.79,227.85L87.94,229.90Z" fill="#22aa3c"/>
<path d="M86.94,224.15L88.09,222.10L89.24,224.15Z" fill="#22aa3c"/>
<path d="M87.73,227.60L88.88,225.55L90.03,227.60Z" fill="#22aa3c"/>
<path d="M87.84,231.05L88.99,229.00L90.14,231.05Z" fill="#22aa3c"/>
<path d="M88.35,221.85L89.50,219.80L90.65,221.85Z" fill="#22aa3c"/>
<path d="M88.82,225.30L89.97,223.25L91.12,225.30Z" fill="#22aa3c"/>
<path d="M88.85,228.75L90.00,226.70L91.15,228.75Z" fill="#22aa3c"/>
<path d="M89.16,223.00L90.31,220.95L91.46,223.00Z" fill="#22aa3c"/>
<path d="M89.71,231.05L90.86,229.00L92.01,231.05Z" fill="#22aa3c"/>
<path d="M89.78,226.45L90.93,224.40L92.08,226.45Z" fill="#22aa3c"/>
<path d="M89.97,224.15L91.12,222.10L92.27,224.15Z" fill="#22aa3c"/>
<path d="M90.05,221.85L91.20,219.80L92.35,221.85Z" fill="#22aa3c"/>
<path d="M90.31,228.75L91.46,226.70L92.61,228.75Z" fill="#22aa3c"/>
<path d="M90.92,225.30L92.07,223.25L93.22,225.30Z" fill="#22aa3c"/>
<path d="M91.28,223.00L92.43,220.95L93.58,223.00Z" fill="#22aa3c"/>
<path d="M91.54,231.05L92.69,229.00L93.84,231.05Z" fill="#22aa3c"/>
<path d="M91.88,227.60L93.03,225.55L94.18,227.60Z" fill="#22aa3c"/>
<path d="M91.98,224.15L93.13,222.10L94.28,224.15Z" fill="#22aa3c"/>
<path d="M92.23,221.85L93.38,219.80L94.53,221.85Z" fill="#22aa3c"/>
<path d="M92.30,229.90L93.45,227.85L94.60,229.90Z" fill="#22aa3c"/>
<path d="M92.86,226.45L94.01,224.40L95.16,226.45Z" fill="#22aa3c"/>
<path d="M93.36,223.00L94.51,220.95L95.66,223.00Z" fill="#22aa3c"/>
<path d="M94.52,228.75L95.67,226.70L96.82,228.75Z" fill="#22aa3c"/>
<path d="M94.87,231.05L96.02,229.00L97.17,231.05Z" fill="#22aa3c"/>
<path d="M95.02,225.30L96.17,223.25L97.32,225.30Z" fill="#22aa3c"/>
<path d="M95.05,221.85L96.20,219.80L97.35,221.85Z" fill="#22aa3c"/>
<path d="M95.50,227.60L96.65,225.55L97.80,227.60Z" fill="#22aa3c"/>
<path d="M95.75,229.90L96.90,227.85L98.05,229.90Z" fill="#22aa3c"/>
<path d="M95.81,224.15L96.96,222.10L98.11,224.15Z" fill="#22aa3c"/>
<path d="M95.82,226.45L96.97,224.40L98.12,226.45Z" fill="#22aa3c"/>
<path d="M95.83,228.75L96.98,226.70L98.13,228.75Z" fill="#22aa3c"/>
<path d="M95.87,223.00L97.02,220.95L98.17,223.00Z" fill="#22aa3c"/>
<path d="M95.96,231.05L97.11,229.00L98.26,231.05Z" fill="#22aa3c"/>
<path d="M96.65,225.30L97.80,223.25L98.95,225.30Z" fill="#22aa3c"/>
<path d="M96.68,221.85L97.83,219.80L98.98,221.85Z" fill="#22aa3c"/>
<path d="M96.70,227.60L97.85,225.55L99.00,227.60Z" fill="#22aa3c"/>
<path d="M96.75,229.90L97.90,227.85L99.05,229.90Z" fill="#22aa3c"/>
<path d="M97.09,224.15L98.24,222.10L99.39,224.15Z" fill="#22aa3c"/>
<path d="M97.69,226.45L98.84,224.40L99.99,226.45Z" fill="#22aa3c"/>
<path d="M97.98,228.75L99.13,226.70L100.28,228.75Z" fill="#22aa3c"/>
<path d="M98.88,231.05L100.03,229.00L101.18,231.05Z" fill="#22aa3c"/>
<path d="M99.53,224.15L100.68,222.10L101.83,224.15Z" fill="#22aa3c"/>
<path d="M99.93,221.85L101.08,219.80L102.23,221.85Z" fill="#22aa3c"/>
<path d="M99.93,227.60L101.08,225.55L102.23,227.60Z" fill="#22aa3c"/>
<path d="M100.02,229.90L101.17,227.85L102.32,229.90Z" fill="#22aa3c"/>
<path d="M100.09,225.30L101.24,223.25L102.39,225.30Z" fill="#22aa3c"/>
<path d="M100.70,223.00L101.85,220.95L103.00,223.00Z" fill="#22aa3c"/>
<path d="M100.90,228.75L102.05,226.70L103.20,228.75Z" fill="#22aa3c"/>
<path d="M100.96,231.05L102.11,229.00L103.26,231.05Z" fill="#22aa3c"/>
<path d="M101.07,226.45L102.22,224.40L103.37,226.45Z" fill="#22aa3c"/>
<path d="M101.14,224.15L102.29,222.10L103.44,224.15Z" fill="#22aa3c"/>
<path d="M101.93,221.85L103.08,219.80L104.23,221.85Z" fill="#22aa3c"/>
<path d="M102.38,229.90L103.53,227.85L104.68,229.90Z" fill="#22aa3c"/>
<path d="M102.67,227.60L103.82,225.55L104.97,227.60Z" fill="#22aa3c"/>
<path d="M102.70,225.30L103.85,223.25L105.00,225.30Z" fill="#22aa3c"/>
<path d="M103.00,223.00L104.15,220.95L105.30,223.00Z" fill="#22aa3c"/>
<path d="M103.06,231.05L104.21,229.00L105.36,231.05Z" fill="#22aa3c"/>
<path d="M103.10,228.75L104.25,226.70L105.40,228.75Z" fill="#22aa3c"/>
<path d="M103.85,226.45L105.00,224.40L106.15,226.45Z" fill="#22aa3c"/>
<path d="M105.75,228.75L106.90,226.70L108.05,228.75Z" fill="#22aa3c"/>
<path d="M106.36,225.30L107.51,223.25L108.66,225.30Z" fill="#22aa3c"/>
<path d="M106.47,231.05L107.62,229.00L108.77,231.05Z" fill="#22aa3c"/>
<path d="M108.90,226.45L110.05,224.40L111.20,226.45Z" fill="#22aa3c"/>
<path d="M109.52,229.90L110.67,227.85L111.82,229.90Z" fill="#22aa3c"/>
<path d="M109.99,224.15L111.14,222.10L112.29,224.15Z" fill="#22aa3c"/>
<path d="M110.37,221.85L111.52,219.80L112.67,221.85Z" fill="#22aa3c"/>
<circle cx="186.33" cy="191.50" r="1.08" fill="#c8102e"/>
<circle cx="188.13" cy="194.13" r="1.08" fill="#c8102e"/>
<circle cx="189.27" cy="189.61" r="1.08" fill="#c8102e"/>
<circle cx="192.49" cy="191.50" r="1.08" fill="#c8102e"/>
<circle cx="193.87" cy="194.92" r="1.08" fill="#c8102e"/>
<circle cx="194.33" cy="189.08" r="1.08" fill="#c8102e"/>
<circle cx="194.81" cy="192.42" r="1.08" fill="#c8102e"/>
<circle cx="195.28" cy="190.59" r="1.08" fill="#c8102e"/>
<circle cx="197.01" cy="194.77" r="1.08" fill="#c8102e"/>
<circle cx="198.63" cy="191.50" r="1.08" fill="#c8102e"/>
<circle cx="199.30" cy="188.42" r="1.08" fill="#c8102e"/>
<circle cx="203.25" cy="191.50" r="1.08" fill="#c8102e"/>
<circle cx="204.33" cy="187.74" r="1.08" fill="#c8102e"/>
<circle cx="206.35" cy="191.50" r="1.08" fill="#c8102e"/>
<circle cx="216.00" cy="191.50" r="1.08" fill="#c8102e"/>
<line x1="187.00" y1="191.50" x2="209.60" y2="191.50" stroke="#c8102e" stroke-width="0.8"/>
<line x1="187.00" y1="189.00" x2="187.00" y2="194.00" stroke="#c8102e" stroke-width="0.8"/>
<line x1="209.60" y1="189.00" x2="209.60" y2="194.00" stroke="#c8102e" stroke-width="0.8"/>
<line x1="200.00" y1="187.00" x2="200.00" y2="196.00" stroke="#c8102e" stroke-width="0.8"/>
<circle cx="169.00" cy="208.80" r="1.08" fill="#0b4a8b"/>
<circle cx="186.15" cy="208.80" r="1.08" fill="#0b4a8b"/>
<circle cx="188.53" cy="205.43" r="1.08" fill="#0b4a8b"/>
<circle cx="189.36" cy="208.80" r="1.08" fill="#0b4a8b"/>
<circle cx="189.89" cy="212.23" r="1.08" fill="#0b4a8b"/>
<circle cx="191.01" cy="204.39" r="1.08" fill="#0b4a8b"/>
<circle cx="191.60" cy="207.13" r="1.08" fill="#0b4a8b"/>
<circle cx="191.68" cy="210.30" r="1.08" fill="#0b4a8b"/>
<circle cx="192.28" cy="213.28" r="1.08" fill="#0b4a8b"/>
<circle cx="192.62" cy="205.40" r="1.08" fill="#0b4a8b"/>
<circle cx="192.81" cy="208.80" r="1.08" fill="#0b4a8b"/>
<circle cx="193.55" cy="211.47" r="1.08" fill="#0b4a8b"/>
<circle cx="193.64" cy="207.02" r="1.08" fill="#0b4a8b"/>
<circle cx="193.86" cy="213.07" r="1.08" fill="#0b4a8b"/>
<circle cx="195.01" cy="204.52" r="1.08" fill="#0b4a8b"/>
<circle cx="195.34" cy="209.54" r="1.08" fill="#0b4a8b"/>
<circle cx="197.13" cy="212.22" r="1.08" fill="#0b4a8b"/>
<circle cx="198.36" cy="208.80" r="1.08" fill="#0b4a8b"/>
<circle cx="198.38" cy="204.90" r="1.08" fill="#0b4a8b"/>
<circle cx="199.39" cy="211.12" r="1.08" fill="#0b4a8b"/>
<circle cx="200.01" cy="207.02" r="1.08" fill="#0b4a8b"/>
<circle cx="200.40" cy="213.15" r="1.08" fill="#0b4a8b"/>
<circle cx="200.40" cy="204.45" r="1.08" fill="#0b4a8b"/>
<circle cx="200.86" cy="209.19" r="1.08" fill="#0b4a8b"/>
<circle cx="201.00" cy="211.54" r="1.08" fill="#0b4a8b"/>
<circle cx="203.32" cy="206.68" r="1.08" fill="#0b4a8b"/>
<circle cx="203.69" cy="213.07" r="1.08" fill="#0b4a8b"/>
<circle cx="204.05" cy="209.47" r="1.08" fill="#0b4a8b"/>
<circle cx="209.56" cy="208.80" r="1.08" fill="#0b4a8b"/>
<line x1="186.00" y1="208.80" x2="207.00" y2="208.80" stroke="#0b4a8b" stroke-width="0.8"/>
<line x1="186.00" y1="206.30" x2="186.00" y2="211.30" stroke="#0b4a8b" stroke-width="0.8"/>
<line x1="207.00" y1="206.30" x2="207.00" y2="211.30" stroke="#0b4a8b" stroke-width="0.8"/>
<line x1="197.50" y1="204.30" x2="197.50" y2="213.30" stroke="#0b4a8b" stroke-width="0.8"/>
<path d="M164.30,226.45L165.45,224.40L166.60,226.45Z" fill="#22aa3c"/>
<path d="M169.13,226.45L170.28,224.40L171.43,226.45Z" fill="#22aa3c"/>
<path d="M171.53,227.60L172.68,225.55L173.83,227.60Z" fill="#22aa3c"/>
<path d="M173.54,225.30L174.69,223.25L175.84,225.30Z" fill="#22aa3c"/>
<path d="M178.12,226.45L179.27,224.40L180.42,226.45Z" fill="#22aa3c"/>
<path d="M179.28,228.75L180.43,226.70L181.58,228.75Z" fill="#22aa3c"/>
<path d="M181.21,226.45L182.36,224.40L183.51,226.45Z" fill="#22aa3c"/>
<path d="M181.27,223.00L182.42,220.95L183.57,223.00Z" fill="#22aa3c"/>
<path d="M181.87,229.90L183.02,227.85L184.17,229.90Z" fill="#22aa3c"/>
<path d="M184.60,226.45L185.75,224.40L186.90,226.45Z" fill="#22aa3c"/>
<path d="M185.01,229.90L186.16,227.85L187.31,229.90Z" fill="#22aa3c"/>
<path d="M186.12,224.15L187.27,222.10L188.42,224.15Z" fill="#22aa3c"/>
<path d="M186.35,221.85L187.50,219.80L188.65,221.85Z" fill="#22aa3c"/>
<path d="M186.45,227.60L187.60,225.55L188.75,227.60Z" fill="#22aa3c"/>
<path d="M186.60,231.05L187.75,229.00L188.90,231.05Z" fill="#22aa3c"/>
<path d="M186.80,225.30L187.95,223.25L189.10,225.30Z" fill="#22aa3c"/>
<path d="M187.09,223.00L188.24,220.95L189.39,223.00Z" fill="#22aa3c"/>
<path d="M187.34,228.75L188.49,226.70L189.64,228.75Z" fill="#22aa3c"/>
<path d="M187.94,226.45L189.09,224.40L190.24,226.45Z" fill="#22aa3c"/>
<path d="M188.13,224.15L189.28,222.10L190.43,224.15Z" fill="#22aa3c"/>
<path d="M188.66,231.05L189.81,229.00L190.96,231.05Z" fill="#22aa3c"/>
<path d="M188.78,221.85L189.93,219.80L191.08,221.85Z" fill="#22aa3c"/>
<path d="M189.09,228.75L190.24,226.70L191.39,228.75Z" fill="#22aa3c"/>
<path d="M189.48,225.30L190.63,223.25L191.78,225.30Z" fill="#22aa3c"/>
<path d="M189.50,223.00L190.65,220.95L191.80,223.00Z" fill="#22aa3c"/>
<path d="M189.67,227.60L190.82,225.55L191.97,227.60Z" fill="#22aa3c"/>
<path d="M189.96,229.90L191.11,227.85L192.26,229.90Z" fill="#22aa3c"/>
<path d="M190.09,224.15L191.24,222.10L192.39,224.15Z" fill="#22aa3c"/>
<path d="M190.16,221.85L191.31,219.80L192.46,221.85Z" fill="#22aa3c"/>
<path d="M190.47,226.45L191.62,224.40L192.77,226.45Z" fill="#22aa3c"/>
<path d="M190.58,228.75L191.73,226.70L192.88,228.75Z" fill="#22aa3c"/>
<path d="M190.61,231.05L191.76,229.00L192.91,231.05Z" fill="#22aa3c"/>
<path d="M190.65,225.30L191.80,223.25L192.95,225.30Z" fill="#22aa3c"/>
<path d="M190.80,223.00L191.95,220.95L193.10,223.00Z" fill="#22aa3c"/>
<path d="M190.88,227.60L192.03,225.55L193.18,227.60Z" fill="#22aa3c"/>
<path d="M190.95,229.90L192.10,227.85L193.25,229.90Z" fill="#22aa3c"/>
<path d="M190.97,224.15L192.12,222.10L193.27,224.15Z" fill="#22aa3c"/>
<path d="M191.08,221.85L192.23,219.80L193.38,221.85Z" fill="#22aa3c"/>
<path d="M191.57,226.45L192.72,224.40L193.87,226.45Z" fill="#22aa3c"/>
<path d="M191.84,228.75L192.99,226.70L194.14,228.75Z" fill="#22aa3c"/>
<path d="M192.66,231.05L193.81,229.00L194.96,231.05Z" fill="#22aa3c"/>
<path d="M192.78,223.00L193.93,220.95L195.08,223.00Z" fill="#22aa3c"/>
<path d="M192.90,225.30L194.05,223.25L195.20,225.30Z" fill="#22aa3c"/>
<path d="M193.17,227.60L194.32,225.55L195.47,227.60Z" fill="#22aa3c"/>
<path d="M193.18,229.90L194.33,227.85L195.48,229.90Z" fill="#22aa3c"/>
<path d="M193.52,221.85L194.67,219.80L195.82,221.85Z" fill="#22aa3c"/>
<path d="M193.54,224.15L194.69,222.10L195.84,224.15Z" fill="#22aa3c"/>
<path d="M193.56,226.45L194.71,224.40L195.86,226.45Z" fill="#22aa3c"/>
<path d="M193.57,228.75L194.72,226.70L195.87,228.75Z" fill="#22aa3c"/>
<path d="M193.63,231.05L194.78,229.00L195.93,231.05Z" fill="#22aa3c"/>
<path d="M193.76,223.00L194.91,220.95L196.06,223.00Z" fill="#22aa3c"/>
<path d="M194.46,225.30L195.61,223.25L196.76,225.30Z" fill="#22aa3c"/>
<path d="M194.52,227.60L195.67,225.55L196.82,227.60Z" fill="#22aa3c"/>
<path d="M194.80,229.90L195.95,227.85L197.10,229.90Z" fill="#22aa3c"/>
<path d="M195.29,221.85L196.44,219.80L197.59,221.85Z" fill="#22aa3c"/>
<path d="M196.75,226.45L197.90,224.40L199.05,226.45Z" fill="#22aa3c"/>
<path d="M196.85,231.05L198.00,229.00L199.15,231.05Z" fill="#22aa3c"/>
<path d="M196.98,224.15L198.13,222.10L199.28,224.15Z" fill="#22aa3c"/>
<path d="M196.99,228.75L198.14,226.70L199.29,228.75Z" fill="#22aa3c"/>
<path d="M197.10,221.85L198.25,219.80L199.40,221.85Z" fill="#22aa3c"/>
<path d="M197.77,225.30L198.92,223.25L200.07,225.30Z" fill="#22aa3c"/>
<path d="M198.41,227.60L199.56,225.55L200.71,227.60Z" fill="#22aa3c"/>
<path d="M199.15,229.90L200.30,227.85L201.45,229.90Z" fill="#22aa3c"/>
<path d="M199.43,223.00L200.58,220.95L201.73,223.00Z" fill="#22aa3c"/>
<path d="M199.77,225.30L200.92,223.25L202.07,225.30Z" fill="#22aa3c"/>
<path d="M199.89,227.60L201.04,225.55L202.19,227.60Z" fill="#22aa3c"/>
<path d="M202.48,226.45L203.63,224.40L204.78,226.45Z" fill="#22aa3c"/>
<path d="M202.54,229.90L203.69,227.85L204.84,229.90Z" fill="#22aa3c"/>
<path d="M202.56,223.00L203.71,220.95L204.86,223.00Z" fill="#22aa3c"/>
<path d="M203.44,227.60L204.59,225.55L205.74,227.60Z" fill="#22aa3c"/>
<circle cx="266.70" cy="191.50" r="1.08" fill="#c8102e"/>
<circle cx="271.93" cy="191.50" r="1.08" fill="#c8102e"/>
<circle cx="272.99" cy="188.48" r="1.08" fill="#c8102e"/>
<circle cx="273.25" cy="194.33" r="1.08" fill="#c8102e"/>
<circle cx="275.52" cy="191.50" r="1.08" fill="#c8102e"/>
<circle cx="275.80" cy="187.64" r="1.08" fill="#c8102e"/>
<circle cx="275.83" cy="195.37" r="1.08" fill="#c8102e"/>
<circle cx="276.37" cy="193.43" r="1.08" fill="#c8102e"/>
<circle cx="282.40" cy="191.50" r="1.08" fill="#c8102e"/>
<circle cx="282.46" cy="195.10" r="1.08" fill="#c8102e"/>
<circle cx="283.34" cy="187.94" r="1.08" fill="#c8102e"/>
<circle cx="286.11" cy="191.50" r="1.08" fill="#c8102e"/>
<circle cx="286.94" cy="194.95" r="1.08" fill="#c8102e"/>
<circle cx="287.08" cy="188.35" r="1.08" fill="#c8102e"/>
<circle cx="291.00" cy="191.50" r="1.08" fill="#c8102e"/>
<line x1="264.00" y1="191.50" x2="287.00" y2="191.50" stroke="#c8102e" stroke-width="0.8"/>
<line x1="264.00" y1="189.00" x2="264.00" y2="194.00" stroke="#c8102e" stroke-width="0.8"/>
<line x1="287.00" y1="189.00" x2="287.00" y2="194.00" stroke="#c8102e" stroke-width="0.8"/>
<line x1="278.50" y1="187.00" x2="278.50" y2="196.00" stroke="#c8102e" stroke-width="0.8"/>
<circle cx="267.40" cy="208.80" r="1.08" fill="#0b4a8b"/>
<circle cx="270.50" cy="208.80" r="1.08" fill="#0b4a8b"/>
<circle cx="277.06" cy="208.80" r="1.08" fill="#0b4a8b"/>
<circle cx="277.20" cy="213.13" r="1.08" fill="#0b4a8b"/>
<circle cx="277.71" cy="204.98" r="1.08" fill="#0b4a8b"/>
<circle cx="278.08" cy="211.00" r="1.08" fill="#0b4a8b"/>
<circle cx="280.00" cy="207.40" r="1.08" fill="#0b4a8b"/>
<circle cx="280.69" cy="212.92" r="1.08" fill="#0b4a8b"/>
<circle cx="281.62" cy="204.48" r="1.08" fill="#0b4a8b"/>
<circle cx="284.62" cy="208.80" r="1.08" fill="#0b4a8b"/>
<circle cx="285.16" cy="205.18" r="1.08" fill="#0b4a8b"/>
<circle cx="286.32" cy="211.81" r="1.08" fill="#0b4a8b"/>
<circle cx="286.82" cy="207.35" r="1.08" fill="#0b4a8b"/>
<circle cx="287.80" cy="204.62" r="1.08" fill="#0b4a8b"/>
<circle cx="289.18" cy="209.36" r="1.08" fill="#0b4a8b"/>
<circle cx="289.35" cy="212.64" r="1.08" fill="#0b4a8b"/>
<circle cx="290.97" cy="206.45" r="1.08" fill="#0b4a8b"/>
<circle cx="294.40" cy="208.80" r="1.08" fill="#0b4a8b"/>
<circle cx="294.66" cy="212.03" r="1.08" fill="#0b4a8b"/>
<circle cx="294.96" cy="205.06" r="1.08" fill="#0b4a8b"/>
<circle cx="295.08" cy="206.77" r="1.08" fill="#0b4a8b"/>
<circle cx="295.19" cy="210.67" r="1.08" fill="#0b4a8b"/>
<circle cx="297.10" cy="208.67" r="1.08" fill="#0b4a8b"/>
<circle cx="298.03" cy="212.12" r="1.08" fill="#0b4a8b"/>
<circle cx="298.65" cy="204.69" r="1.08" fill="#0b4a8b"/>
<circle cx="301.33" cy="208.80" r="1.08" fill="#0b4a8b"/>
<circle cx="302.80" cy="205.45" r="1.08" fill="#0b4a8b"/>
<circle cx="303.21" cy="212.50" r="1.08" fill="#0b4a8b"/>
<circle cx="310.00" cy="208.80" r="1.08" fill="#0b4a8b"/>
<circle cx="313.60" cy="208.80" r="1.08" fill="#0b4a8b"/>
<line x1="279.00" y1="208.80" x2="300.00" y2="208.80" stroke="#0b4a8b" stroke-width="0.8"/>
<line x1="279.00" y1="206.30" x2="279.00" y2="211.30" stroke="#0b4a8b" stroke-width="0.8"/>
<line x1="300.00" y1="206.30" x2="300.00" y2="211.30" stroke="#0b4a8b" stroke-width="0.8"/>
<line x1="290.00" y1="204.30" x2="290.00" y2="213.30" stroke="#0b4a8b" stroke-width="0.8"/>
<path d="M255.98,226.45L257.13,224.40L258.28,226.45Z" fill="#22aa3c"/>
<path d="M256.86,228.75L258.01,226.70L259.16,228.75Z" fill="#22aa3c"/>
<path d="M260.71,226.45L261.86,224.40L263.01,226.45Z" fill="#22aa3c"/>
<path d="M261.84,228.75L262.99,226.70L264.14,228.75Z" fill="#22aa3c"/>
<path d="M262.08,224.15L263.23,222.10L264.38,224.15Z" fill="#22aa3c"/>
<path d="M265.79,226.45L266.94,224.40L268.09,226.45Z" fill="#22aa3c"/>
<path d="M272.96,226.45L274.11,224.40L275.26,226.45Z" fill="#22aa3c"/>
<path d="M273.19,229.90L274.34,227.85L275.49,229.90Z" fill="#22aa3c"/>
<path d="M274.68,224.15L275.83,222.10L276.98,224.15Z" fill="#22aa3c"/>
<path d="M275.74,226.45L276.89,224.40L278.04,226.45Z" fill="#22aa3c"/>
<path d="M275.90,229.90L277.05,227.85L278.20,229.90Z" fill="#22aa3c"/>
<path d="M276.30,221.85L277.45,219.80L278.60,221.85Z" fill="#22aa3c"/>
<path d="M276.50,224.15L277.65,222.10L278.80,224.15Z" fill="#22aa3c"/>
<path d="M276.88,227.60L278.03,225.55L279.18,227.60Z" fill="#22aa3c"/>
<path d="M277.68,231.05L278.83,229.00L279.98,231.05Z" fill="#22aa3c"/>
<path d="M277.98,225.30L279.13,223.25L280.28,225.30Z" fill="#22aa3c"/>
<path d="M278.52,223.00L279.67,220.95L280.82,223.00Z" fill="#22aa3c"/>
<path d="M278.75,228.75L279.90,226.70L281.05,228.75Z" fill="#22aa3c"/>
<path d="M278.79,226.45L279.94,224.40L281.09,226.45Z" fill="#22aa3c"/>
<path d="M278.85,224.15L280.00,222.10L281.15,224.15Z" fill="#22aa3c"/>
<path d="M279.09,231.05L280.24,229.00L281.39,231.05Z" fill="#22aa3c"/>
<path d="M279.23,221.85L280.38,219.80L281.53,221.85Z" fill="#22aa3c"/>
<path d="M279.33,227.60L280.48,225.55L281.63,227.60Z" fill="#22aa3c"/>
<path d="M279.38,225.30L280.53,223.25L281.68,225.30Z" fill="#22aa3c"/>
<path d="M279.41,229.90L280.56,227.85L281.71,229.90Z" fill="#22aa3c"/>
<path d="M279.85,223.00L281.00,220.95L282.15,223.00Z" fill="#22aa3c"/>
<path d="M280.64,226.45L281.79,224.40L282.94,226.45Z" fill="#22aa3c"/>
<path d="M281.18,228.75L282.33,226.70L283.48,228.75Z" fill="#22aa3c"/>
<path d="M281.36,231.05L282.51,229.00L283.66,231.05Z" fill="#22aa3c"/>
<path d="M281.68,224.15L282.83,222.10L283.98,224.15Z" fill="#22aa3c"/>
<path d="M281.71,221.85L282.86,219.80L284.01,221.85Z" fill="#22aa3c"/>
<path d="M282.37,226.45L283.52,224.40L284.67,226.45Z" fill="#22aa3c"/>
<path d="M282.50,229.90L283.65,227.85L284.80,229.90Z" fill="#22aa3c"/>
<path d="M282.97,223.00L284.12,220.95L285.27,223.00Z" fill="#22aa3c"/>
<path d="M283.12,227.60L284.27,225.55L285.42,227.60Z" fill="#22aa3c"/>
<path d="M284.04,225.30L285.19,223.25L286.34,225.30Z" fill="#22aa3c"/>
<path d="M284.41,231.05L285.56,229.00L286.71,231.05Z" fill="#22aa3c"/>
<path d="M284.49,221.85L285.64,219.80L286.79,221.85Z" fill="#22aa3c"/>
<path d="M284.66,228.75L285.81,226.70L286.96,228.75Z" fill="#22aa3c"/>
<path d="M284.83,226.45L285.98,224.40L287.13,226.45Z" fill="#22aa3c"/>
<path d="M284.83,224.15L285.98,222.10L287.13,224.15Z" fill="#22aa3c"/>
<path d="M285.10,229.90L286.25,227.85L287.40,229.90Z" fill="#22aa3c"/>
<path d="M285.89,227.60L287.04,225.55L288.19,227.60Z" fill="#22aa3c"/>
<path d="M286.61,221.85L287.76,219.80L288.91,221.85Z" fill="#22aa3c"/>
<path d="M286.71,225.30L287.86,223.25L289.01,225.30Z" fill="#22aa3c"/>
<path d="M286.79,231.05L287.94,229.00L289.09,231.05Z" fill="#22aa3c"/>
<path d="M287.14,228.75L288.29,226.70L289.44,228.75Z" fill="#22aa3c"/>
<path d="M287.60,223.00L288.75,220.95L289.90,223.00Z" fill="#22aa3c"/>
<path d="M288.04,226.45L289.19,224.40L290.34,226.45Z" fill="#22aa3c"/>
<path d="M288.15,229.90L289.30,227.85L290.45,229.90Z" fill="#22aa3c"/>
<path d="M288.68,224.15L289.83,222.10L290.98,224.15Z" fill="#22aa3c"/>
<path d="M289.10,221.85L290.25,219.80L291.40,221.85Z" fill="#22aa3c"/>
<path d="M289.28,227.60L290.43,225.55L291.58,227.60Z" fill="#22aa3c"/>
<path d="M289.29,231.05L290.44,229.00L291.59,231.05Z" fill="#22aa3c"/>
<path d="M289.88,225.30L291.03,223.25L292.18,225.30Z" fill="#22aa3c"/>
<path d="M289.98,223.00L291.13,220.95L292.28,223.00Z" fill="#22aa3c"/>
<path d="M290.18,228.75L291.33,226.70L292.48,228.75Z" fill="#22aa3c"/>
<path d="M290.54,226.45L291.69,224.40L292.84,226.45Z" fill="#22aa3c"/>
<path d="M291.00,231.05L292.15,229.00L293.30,231.05Z" fill="#22aa3c"/>
<path d="M291.02,224.15L292.17,222.10L293.32,224.15Z" fill="#22aa3c"/>
<path d="M292.01,221.85L293.16,219.80L294.31,221.85Z" fill="#22aa3c"/>
<path d="M292.72,227.60L293.87,225.55L295.02,227.60Z" fill="#22aa3c"/>
<path d="M293.33,225.30L294.48,223.25L295.63,225.30Z" fill="#22aa3c"/>
<path d="M293.41,231.05L294.56,229.00L295.71,231.05Z" fill="#22aa3c"/>
<path d="M294.55,223.00L295.70,220.95L296.85,223.00Z" fill="#22aa3c"/>
<path d="M295.39,227.60L296.54,225.55L297.69,227.60Z" fill="#22aa3c"/>
<path d="M296.97,225.30L298.12,223.25L299.27,225.30Z" fill="#22aa3c"/>
<path d="M298.59,227.60L299.74,225.55L300.89,227.60Z" fill="#22aa3c"/>
<path d="M298.99,223.00L300.14,220.95L301.29,223.00Z" fill="#22aa3c"/>
<path d="M300.31,225.30L301.46,223.25L302.61,225.30Z" fill="#22aa3c"/>
<path d="M303.88,226.45L305.03,224.40L306.18,226.45Z" fill="#22aa3c"/>
<path d="M305.96,228.75L307.11,226.70L308.26,228.75Z" fill="#22aa3c"/>
<circle cx="372.44" cy="191.50" r="1.08" fill="#c8102e"/>
<circle cx="375.83" cy="191.50" r="1.08" fill="#c8102e"/>
<circle cx="378.76" cy="194.58" r="1.08" fill="#c8102e"/>
<circle cx="379.72" cy="191.50" r="1.08" fill="#c8102e"/>
<circle cx="380.32" cy="187.70" r="1.08" fill="#c8102e"/>
<circle cx="383.22" cy="191.50" r="1.08" fill="#c8102e"/>
<circle cx="383.88" cy="194.90" r="1.08" fill="#c8102e"/>
<circle cx="385.39" cy="187.93" r="1.08" fill="#c8102e"/>
<circle cx="388.86" cy="191.50" r="1.08" fill="#c8102e"/>
<circle cx="389.03" cy="188.00" r="1.08" fill="#c8102e"/>
<circle cx="389.96" cy="195.15" r="1.08" fill="#c8102e"/>
<circle cx="391.30" cy="189.85" r="1.08" fill="#c8102e"/>
<circle cx="391.43" cy="192.76" r="1.08" fill="#c8102e"/>
<circle cx="396.79" cy="191.50" r="1.08" fill="#c8102e"/>
<circle cx="408.70" cy="191.50" r="1.08" fill="#c8102e"/>
<line x1="373.20" y1="191.50" x2="396.60" y2="191.50" stroke="#c8102e" stroke-width="0.8"/>
<line x1="373.20" y1="189.00" x2="373.20" y2="194.00" stroke="#c8102e" stroke-width="0.8"/>
<line x1="396.60" y1="189.00" x2="396.60" y2="194.00" stroke="#c8102e" stroke-width="0.8"/>
<line x1="388.50" y1="187.00" x2="388.50" y2="196.00" stroke="#c8102e" stroke-width="0.8"/>
<circle cx="335.00" cy="208.80" r="1.08" fill="#0b4a8b"/>
<circle cx="342.00" cy="208.80" r="1.08" fill="#0b4a8b"/>
<circle cx="356.01" cy="208.80" r="1.08" fill="#0b4a8b"/>
<circle cx="356.96" cy="212.78" r="1.08" fill="#0b4a8b"/>
<circle cx="357.33" cy="206.04" r="1.08" fill="#0b4a8b"/>
<circle cx="357.45" cy="210.42" r="1.08" fill="#0b4a8b"/>
<circle cx="359.68" cy="208.11" r="1.08" fill="#0b4a8b"/>
<circle cx="360.65" cy="212.42" r="1.08" fill="#0b4a8b"/>
<circle cx="361.18" cy="205.00" r="1.08" fill="#0b4a8b"/>
<circle cx="361.37" cy="210.12" r="1.08" fill="#0b4a8b"/>
<circle cx="364.58" cy="208.80" r="1.08" fill="#0b4a8b"/>
<circle cx="366.50" cy="205.66" r="1.08" fill="#0b4a8b"/>
<circle cx="367.22" cy="211.93" r="1.08" fill="#0b4a8b"/>
<circle cx="369.24" cy="208.80" r="1.08" fill="#0b4a8b"/>
<circle cx="369.32" cy="204.34" r="1.08" fill="#0b4a8b"/>
<circle cx="370.17" cy="213.25" r="1.08" fill="#0b4a8b"/>
<circle cx="370.91" cy="206.57" r="1.08" fill="#0b4a8b"/>
<circle cx="371.16" cy="210.73" r="1.08" fill="#0b4a8b"/>
<circle cx="372.31" cy="204.31" r="1.08" fill="#0b4a8b"/>
<circle cx="372.68" cy="208.56" r="1.08" fill="#0b4a8b"/>
<circle cx="373.07" cy="213.12" r="1.08" fill="#0b4a8b"/>
<circle cx="375.23" cy="210.62" r="1.08" fill="#0b4a8b"/>
<circle cx="375.31" cy="205.33" r="1.08" fill="#0b4a8b"/>
<circle cx="376.36" cy="208.00" r="1.08" fill="#0b4a8b"/>
<circle cx="382.23" cy="208.80" r="1.08" fill="#0b4a8b"/>
<circle cx="383.64" cy="213.11" r="1.08" fill="#0b4a8b"/>
<circle cx="383.72" cy="205.81" r="1.08" fill="#0b4a8b"/>
<circle cx="385.92" cy="208.80" r="1.08" fill="#0b4a8b"/>
<circle cx="392.40" cy="208.80" r="1.08" fill="#0b4a8b"/>
<circle cx="395.80" cy="208.80" r="1.08" fill="#0b4a8b"/>
<line x1="360.00" y1="208.80" x2="383.00" y2="208.80" stroke="#0b4a8b" stroke-width="0.8"/>
<line x1="360.00" y1="206.30" x2="360.00" y2="211.30" stroke="#0b4a8b" stroke-width="0.8"/>
<line x1="383.00" y1="206.30" x2="383.00" y2="211.30" stroke="#0b4a8b" stroke-width="0.8"/>
<line x1="373.00" y1="204.30" x2="373.00" y2="213.30" stroke="#0b4a8b" stroke-width="0.8"/>
<path d="M363.41,226.45L364.56,224.40L365.71,226.45Z" fill="#22aa3c"/>
<path d="M363.58,229.90L364.73,227.85L365.88,229.90Z" fill="#22aa3c"/>
<path d="M363.89,223.00L365.04,220.95L366.19,223.00Z" fill="#22aa3c"/>
<path d="M368.58,226.45L369.73,224.40L370.88,226.45Z" fill="#22aa3c"/>
<path d="M373.44,226.45L374.59,224.40L375.74,226.45Z" fill="#22aa3c"/>
<path d="M374.32,228.75L375.47,226.70L376.62,228.75Z" fill="#22aa3c"/>
<path d="M374.72,224.15L375.87,222.10L377.02,224.15Z" fill="#22aa3c"/>
<path d="M374.77,231.05L375.92,229.00L377.07,231.05Z" fill="#22aa3c"/>
<path d="M374.91,221.85L376.06,219.80L377.21,221.85Z" fill="#22aa3c"/>
<path d="M375.38,226.45L376.53,224.40L377.68,226.45Z" fill="#22aa3c"/>
<path d="M375.91,229.90L377.06,227.85L378.21,229.90Z" fill="#22aa3c"/>
<path d="M375.98,223.00L377.13,220.95L378.28,223.00Z" fill="#22aa3c"/>
<path d="M376.01,227.60L377.16,225.55L378.31,227.60Z" fill="#22aa3c"/>
<path d="M376.85,225.30L378.00,223.25L379.15,225.30Z" fill="#22aa3c"/>
<path d="M377.23,231.05L378.38,229.00L379.53,231.05Z" fill="#22aa3c"/>
<path d="M377.30,221.85L378.45,219.80L379.60,221.85Z" fill="#22aa3c"/>
<path d="M377.36,228.75L378.51,226.70L379.66,228.75Z" fill="#22aa3c"/>
<path d="M377.93,226.45L379.08,224.40L380.23,226.45Z" fill="#22aa3c"/>
<path d="M378.00,224.15L379.15,222.10L380.30,224.15Z" fill="#22aa3c"/>
<path d="M378.19,229.90L379.34,227.85L380.49,229.90Z" fill="#22aa3c"/>
<path d="M378.37,227.60L379.52,225.55L380.67,227.60Z" fill="#22aa3c"/>
<path d="M378.97,221.85L380.12,219.80L381.27,221.85Z" fill="#22aa3c"/>
<path d="M379.13,225.30L380.28,223.25L381.43,225.30Z" fill="#22aa3c"/>
<path d="M379.44,231.05L380.59,229.00L381.74,231.05Z" fill="#22aa3c"/>
<path d="M379.96,228.75L381.11,226.70L382.26,228.75Z" fill="#22aa3c"/>
<path d="M380.07,223.00L381.22,220.95L382.37,223.00Z" fill="#22aa3c"/>
<path d="M381.57,226.45L382.72,224.40L383.87,226.45Z" fill="#22aa3c"/>
<path d="M381.92,231.05L383.07,229.00L384.22,231.05Z" fill="#22aa3c"/>
<path d="M382.05,224.15L383.20,222.10L384.35,224.15Z" fill="#22aa3c"/>
<path d="M382.10,221.85L383.25,219.80L384.40,221.85Z" fill="#22aa3c"/>
<path d="M382.16,228.75L383.31,226.70L384.46,228.75Z" fill="#22aa3c"/>
<path d="M382.92,225.30L384.07,223.25L385.22,225.30Z" fill="#22aa3c"/>
<path d="M383.24,223.00L384.39,220.95L385.54,223.00Z" fill="#22aa3c"/>
<path d="M383.46,227.60L384.61,225.55L385.76,227.60Z" fill="#22aa3c"/>
<path d="M383.77,229.90L384.92,227.85L386.07,229.90Z" fill="#22aa3c"/>
<path d="M384.12,224.15L385.27,222.10L386.42,224.15Z" fill="#22aa3c"/>
<path d="M384.18,221.85L385.33,219.80L386.48,221.85Z" fill="#22aa3c"/>
<path d="M384.22,226.45L385.37,224.40L386.52,226.45Z" fill="#22aa3c"/>
<path d="M384.23,228.75L385.38,226.70L386.53,228.75Z" fill="#22aa3c"/>
<path d="M384.43,231.05L385.58,229.00L386.73,231.05Z" fill="#22aa3c"/>
<path d="M385.00,223.00L386.15,220.95L387.30,223.00Z" fill="#22aa3c"/>
<path d="M385.02,225.30L386.17,223.25L387.32,225.30Z" fill="#22aa3c"/>
<path d="M385.56,227.60L386.71,225.55L387.86,227.60Z" fill="#22aa3c"/>
<path d="M385.74,229.90L386.89,227.85L388.04,229.90Z" fill="#22aa3c"/>
<path d="M385.89,221.85L387.04,219.80L388.19,221.85Z" fill="#22aa3c"/>
<path d="M386.15,224.15L387.30,222.10L388.45,224.15Z" fill="#22aa3c"/>
<path d="M386.16,226.45L387.31,224.40L388.46,226.45Z" fill="#22aa3c"/>
<path d="M386.30,228.75L387.45,226.70L388.60,228.75Z" fill="#22aa3c"/>
<path d="M386.55,231.05L387.70,229.00L388.85,231.05Z" fill="#22aa3c"/>
<path d="M386.66,223.00L387.81,220.95L388.96,223.00Z" fill="#22aa3c"/>
<path d="M386.69,225.30L387.84,223.25L388.99,225.30Z" fill="#22aa3c"/>
<path d="M386.84,227.60L387.99,225.55L389.14,227.60Z" fill="#22aa3c"/>
<path d="M387.58,229.90L388.73,227.85L389.88,229.90Z" fill="#22aa3c"/>
<path d="M388.55,221.85L389.70,219.80L390.85,221.85Z" fill="#22aa3c"/>
<path d="M388.58,224.15L389.73,222.10L390.88,224.15Z" fill="#22aa3c"/>
<path d="M388.61,226.45L389.76,224.40L390.91,226.45Z" fill="#22aa3c"/>
<path d="M389.10,228.75L390.25,226.70L391.40,228.75Z" fill="#22aa3c"/>
<path d="M389.50,231.05L390.65,229.00L391.80,231.05Z" fill="#22aa3c"/>
<path d="M390.39,223.00L391.54,220.95L392.69,223.00Z" fill="#22aa3c"/>
<path d="M390.73,225.30L391.88,223.25L393.03,225.30Z" fill="#22aa3c"/>
<path d="M390.95,227.60L392.10,225.55L393.25,227.60Z" fill="#22aa3c"/>
<path d="M391.04,229.90L392.19,227.85L393.34,229.90Z" fill="#22aa3c"/>
<path d="M392.01,221.85L393.16,219.80L394.31,221.85Z" fill="#22aa3c"/>
<path d="M392.56,224.15L393.71,222.10L394.86,224.15Z" fill="#22aa3c"/>
<path d="M392.76,226.45L393.91,224.40L395.06,226.45Z" fill="#22aa3c"/>
<path d="M393.44,231.05L394.59,229.00L395.74,231.05Z" fill="#22aa3c"/>
<path d="M394.06,228.75L395.21,226.70L396.36,228.75Z" fill="#22aa3c"/>
<path d="M394.09,221.85L395.24,219.80L396.39,221.85Z" fill="#22aa3c"/>
<path d="M395.08,225.30L396.23,223.25L397.38,225.30Z" fill="#22aa3c"/>
<path d="M397.08,227.60L398.23,225.55L399.38,227.60Z" fill="#22aa3c"/>
<path d="M397.58,224.15L398.73,222.10L399.88,224.15Z" fill="#22aa3c"/>
<path d="M397.94,229.90L399.09,227.85L400.24,229.90Z" fill="#22aa3c"/>
<path d="M399.12,221.85L400.27,219.80L401.42,221.85Z" fill="#22aa3c"/>
<path d="M401.47,226.45L402.62,224.40L403.77,226.45Z" fill="#22aa3c"/>
<circle cx="450.30" cy="191.50" r="1.08" fill="#c8102e"/>
<circle cx="451.21" cy="187.63" r="1.08" fill="#c8102e"/>
<circle cx="451.60" cy="194.30" r="1.08" fill="#c8102e"/>
<circle cx="460.19" cy="191.50" r="1.08" fill="#c8102e"/>
<circle cx="460.95" cy="188.50" r="1.08" fill="#c8102e"/>
<circle cx="460.96" cy="195.35" r="1.08" fill="#c8102e"/>
<circle cx="461.31" cy="193.35" r="1.08" fill="#c8102e"/>
<circle cx="461.33" cy="190.47" r="1.08" fill="#c8102e"/>
<circle cx="462.97" cy="187.61" r="1.08" fill="#c8102e"/>
<circle cx="463.59" cy="194.83" r="1.08" fill="#c8102e"/>
<circle cx="468.14" cy="191.50" r="1.08" fill="#c8102e"/>
<circle cx="468.35" cy="194.87" r="1.08" fill="#c8102e"/>
<circle cx="472.00" cy="191.50" r="1.08" fill="#c8102e"/>
<circle cx="473.11" cy="194.90" r="1.08" fill="#c8102e"/>
<circle cx="483.00" cy="191.50" r="1.08" fill="#c8102e"/>
<line x1="452.00" y1="191.50" x2="474.00" y2="191.50" stroke="#c8102e" stroke-width="0.8"/>
<line x1="452.00" y1="189.00" x2="452.00" y2="194.00" stroke="#c8102e" stroke-width="0.8"/>
<line x1="474.00" y1="189.00" x2="474.00" y2="194.00" stroke="#c8102e" stroke-width="0.8"/>
<line x1="463.80" y1="187.00" x2="463.80" y2="196.00" stroke="#c8102e" stroke-width="0.8"/>
<circle cx="439.60" cy="208.80" r="1.08" fill="#0b4a8b"/>
<circle cx="449.20" cy="208.80" r="1.08" fill="#0b4a8b"/>
<circle cx="462.11" cy="208.80" r="1.08" fill="#0b4a8b"/>
<circle cx="463.31" cy="212.77" r="1.08" fill="#0b4a8b"/>
<circle cx="464.37" cy="205.75" r="1.08" fill="#0b4a8b"/>
<circle cx="464.41" cy="210.27" r="1.08" fill="#0b4a8b"/>
<circle cx="464.58" cy="208.03" r="1.08" fill="#0b4a8b"/>
<circle cx="465.42" cy="212.19" r="1.08" fill="#0b4a8b"/>
<circle cx="466.85" cy="204.39" r="1.08" fill="#0b4a8b"/>
<circle cx="466.90" cy="209.30" r="1.08" fill="#0b4a8b"/>
<circle cx="469.85" cy="211.82" r="1.08" fill="#0b4a8b"/>
<circle cx="470.20" cy="208.80" r="1.08" fill="#0b4a8b"/>
<circle cx="470.94" cy="204.96" r="1.08" fill="#0b4a8b"/>
<circle cx="470.99" cy="206.92" r="1.08" fill="#0b4a8b"/>
<circle cx="471.02" cy="213.22" r="1.08" fill="#0b4a8b"/>
<circle cx="472.86" cy="210.32" r="1.08" fill="#0b4a8b"/>
<circle cx="474.47" cy="213.26" r="1.08" fill="#0b4a8b"/>
<circle cx="475.61" cy="208.80" r="1.08" fill="#0b4a8b"/>
<circle cx="475.90" cy="205.60" r="1.08" fill="#0b4a8b"/>
<circle cx="475.92" cy="211.41" r="1.08" fill="#0b4a8b"/>
<circle cx="476.99" cy="213.28" r="1.08" fill="#0b4a8b"/>
<circle cx="477.95" cy="207.54" r="1.08" fill="#0b4a8b"/>
<circle cx="478.09" cy="210.12" r="1.08" fill="#0b4a8b"/>
<circle cx="479.31" cy="204.30" r="1.08" fill="#0b4a8b"/>
<circle cx="479.61" cy="213.06" r="1.08" fill="#0b4a8b"/>
<circle cx="482.50" cy="208.80" r="1.08" fill="#0b4a8b"/>
<line x1="462.00" y1="208.80" x2="477.00" y2="208.80" stroke="#0b4a8b" stroke-width="0.8"/>
<line x1="462.00" y1="206.30" x2="462.00" y2="211.30" stroke="#0b4a8b" stroke-width="0.8"/>
<line x1="477.00" y1="206.30" x2="477.00" y2="211.30" stroke="#0b4a8b" stroke-width="0.8"/>
<line x1="470.00" y1="204.30" x2="470.00" y2="213.30" stroke="#0b4a8b" stroke-width="0.8"/>
<path d="M443.90,226.45L445.05,224.40L446.20,226.45Z" fill="#22aa3c"/>
<path d="M445.91,228.75L447.06,226.70L448.21,228.75Z" fill="#22aa3c"/>
<path d="M450.55,226.45L451.70,224.40L452.85,226.45Z" fill="#22aa3c"/>
<path d="M450.96,229.90L452.11,227.85L453.26,229.90Z" fill="#22aa3c"/>
<path d="M451.26,224.15L452.41,222.10L453.56,224.15Z" fill="#22aa3c"/>
<path d="M454.21,226.45L455.36,224.40L456.51,226.45Z" fill="#22aa3c"/>
<path d="M454.49,229.90L455.64,227.85L456.79,229.90Z" fill="#22aa3c"/>
<path d="M454.51,223.00L455.66,220.95L456.81,223.00Z" fill="#22aa3c"/>
<path d="M454.84,227.60L455.99,225.55L457.14,227.60Z" fill="#22aa3c"/>
<path d="M454.84,225.30L455.99,223.25L457.14,225.30Z" fill="#22aa3c"/>
<path d="M454.86,231.05L456.01,229.00L457.16,231.05Z" fill="#22aa3c"/>
<path d="M454.95,221.85L456.10,219.80L457.25,221.85Z" fill="#22aa3c"/>
<path d="M455.14,228.75L456.29,226.70L457.44,228.75Z" fill="#22aa3c"/>
<path d="M455.83,226.45L456.98,224.40L458.13,226.45Z" fill="#22aa3c"/>
<path d="M456.01,224.15L457.16,222.10L458.31,224.15Z" fill="#22aa3c"/>
<path d="M456.57,229.90L457.72,227.85L458.87,229.90Z" fill="#22aa3c"/>
<path d="M458.30,226.45L459.45,224.40L460.60,226.45Z" fill="#22aa3c"/>
<path d="M458.51,223.00L459.66,220.95L460.81,223.00Z" fill="#22aa3c"/>
<path d="M459.43,228.75L460.58,226.70L461.73,228.75Z" fill="#22aa3c"/>
<path d="M459.73,231.05L460.88,229.00L462.03,231.05Z" fill="#22aa3c"/>
<path d="M460.01,225.30L461.16,223.25L462.31,225.30Z" fill="#22aa3c"/>
<path d="M460.07,221.85L461.22,219.80L462.37,221.85Z" fill="#22aa3c"/>
<path d="M460.08,227.60L461.23,225.55L462.38,227.60Z" fill="#22aa3c"/>
<path d="M460.23,229.90L461.38,227.85L462.53,229.90Z" fill="#22aa3c"/>
<path d="M460.42,224.15L461.57,222.10L462.72,224.15Z" fill="#22aa3c"/>
<path d="M460.65,226.45L461.80,224.40L462.95,226.45Z" fill="#22aa3c"/>
<path d="M460.95,228.75L462.10,226.70L463.25,228.75Z" fill="#22aa3c"/>
<path d="M460.96,223.00L462.11,220.95L463.26,223.00Z" fill="#22aa3c"/>
<path d="M461.63,231.05L462.78,229.00L463.93,231.05Z" fill="#22aa3c"/>
<path d="M461.78,225.30L462.93,223.25L464.08,225.30Z" fill="#22aa3c"/>
<path d="M462.25,227.60L463.40,225.55L464.55,227.60Z" fill="#22aa3c"/>
<path d="M462.41,221.85L463.56,219.80L464.71,221.85Z" fill="#22aa3c"/>
<path d="M462.78,229.90L463.93,227.85L465.08,229.90Z" fill="#22aa3c"/>
<path d="M463.19,224.15L464.34,222.10L465.49,224.15Z" fill="#22aa3c"/>
<path d="M463.64,226.45L464.79,224.40L465.94,226.45Z" fill="#22aa3c"/>
<path d="M463.69,228.75L464.84,226.70L465.99,228.75Z" fill="#22aa3c"/>
<path d="M463.73,231.05L464.88,229.00L466.03,231.05Z" fill="#22aa3c"/>
<path d="M463.85,221.85L465.00,219.80L466.15,221.85Z" fill="#22aa3c"/>
<path d="M464.25,225.30L465.40,223.25L466.55,225.30Z" fill="#22aa3c"/>
<path d="M464.29,227.60L465.44,225.55L466.59,227.60Z" fill="#22aa3c"/>
<path d="M464.60,229.90L465.75,227.85L466.90,229.90Z" fill="#22aa3c"/>
<path d="M464.71,223.00L465.86,220.95L467.01,223.00Z" fill="#22aa3c"/>
<path d="M464.79,224.15L465.94,222.10L467.09,224.15Z" fill="#22aa3c"/>
<path d="M464.85,226.45L466.00,224.40L467.15,226.45Z" fill="#22aa3c"/>
<path d="M465.08,228.75L466.23,226.70L467.38,228.75Z" fill="#22aa3c"/>
<path d="M465.78,231.05L466.93,229.00L468.08,231.05Z" fill="#22aa3c"/>
<path d="M465.82,221.85L466.97,219.80L468.12,221.85Z" fill="#22aa3c"/>
<path d="M466.30,225.30L467.45,223.25L468.60,225.30Z" fill="#22aa3c"/>
<path d="M466.86,227.60L468.01,225.55L469.16,227.60Z" fill="#22aa3c"/>
<path d="M467.12,229.90L468.27,227.85L469.42,229.90Z" fill="#22aa3c"/>
<path d="M467.19,223.00L468.34,220.95L469.49,223.00Z" fill="#22aa3c"/>
<path d="M467.58,226.45L468.73,224.40L469.88,226.45Z" fill="#22aa3c"/>
<path d="M467.77,228.75L468.92,226.70L470.07,228.75Z" fill="#22aa3c"/>
<path d="M468.02,231.05L469.17,229.00L470.32,231.05Z" fill="#22aa3c"/>
<path d="M468.11,224.15L469.26,222.10L470.41,224.15Z" fill="#22aa3c"/>
<path d="M468.42,221.85L469.57,219.80L470.72,221.85Z" fill="#22aa3c"/>
<path d="M468.42,227.60L469.57,225.55L470.72,227.60Z" fill="#22aa3c"/>
<path d="M468.83,229.90L469.98,227.85L471.13,229.90Z" fill="#22aa3c"/>
<path d="M469.11,225.30L470.26,223.25L471.41,225.30Z" fill="#22aa3c"/>
<path d="M469.28,223.00L470.43,220.95L471.58,223.00Z" fill="#22aa3c"/>
<path d="M469.46,228.75L470.61,226.70L471.76,228.75Z" fill="#22aa3c"/>
<path d="M469.87,231.05L471.02,229.00L472.17,231.05Z" fill="#22aa3c"/>
<path d="M470.83,226.45L471.98,224.40L473.13,226.45Z" fill="#22aa3c"/>
<path d="M472.21,228.75L473.36,226.70L474.51,228.75Z" fill="#22aa3c"/>
<path d="M472.47,224.15L473.62,222.10L474.77,224.15Z" fill="#22aa3c"/>
<path d="M473.24,226.45L474.39,224.40L475.54,226.45Z" fill="#22aa3c"/>
<path d="M473.43,231.05L474.58,229.00L475.73,231.05Z" fill="#22aa3c"/>
<path d="M473.44,221.85L474.59,219.80L475.74,221.85Z" fill="#22aa3c"/>
<path d="M473.81,228.75L474.96,226.70L476.11,228.75Z" fill="#22aa3c"/>
<path d="M474.77,224.15L475.92,222.10L477.07,224.15Z" fill="#22aa3c"/>
<path d="M477.85,226.45L479.00,224.40L480.15,226.45Z" fill="#22aa3c"/>
<path d="M477.95,229.90L479.10,227.85L480.25,229.90Z" fill="#22aa3c"/>
<path d="M481.42,226.45L482.57,224.40L483.72,226.45Z" fill="#22aa3c"/>
<path d="M481.66,229.90L482.81,227.85L483.96,229.90Z" fill="#22aa3c"/>
<path d="M493.45,226.45L494.60,224.40L495.75,226.45Z" fill="#22aa3c"/>
<path d="M221.3,191.1 H223.3 V226.5 H221.3" fill="none" stroke="#333" stroke-width="0.9"/>
<path d="M227.00,205.45L227.00,207.75M226.00,206.03L228.00,207.17M226.00,207.17L228.00,206.03" stroke="#222" stroke-width="0.75" fill="none"/>
<path d="M227.00,209.25L227.00,211.55M226.00,209.83L228.00,210.97M226.00,210.97L228.00,209.83" stroke="#222" stroke-width="0.75" fill="none"/>
<path d="M410,192.2 H412.5 V208.8 H410" fill="none" stroke="#333" stroke-width="0.9"/>
<path d="M415.70,195.85L415.70,198.15M414.70,196.43L416.70,197.57M414.70,197.57L416.70,196.43" stroke="#222" stroke-width="0.75" fill="none"/>
<path d="M415.70,199.75L415.70,202.05M414.70,200.33L416.70,201.47M414.70,201.47L416.70,200.33" stroke="#222" stroke-width="0.75" fill="none"/>
<path d="M415.70,203.55L415.70,205.85M414.70,204.12L416.70,205.27M414.70,205.27L416.70,204.12" stroke="#222" stroke-width="0.75" fill="none"/>
<path d="M489.4,192.2 H492.5 V208.5 H489.4" fill="none" stroke="#333" stroke-width="0.9"/>
<path d="M495.50,199.35L495.50,201.65M494.50,199.93L496.50,201.07M494.50,201.07L496.50,199.93" stroke="#222" stroke-width="0.75" fill="none"/>
<rect x="0.5" y="0.5" width="519" height="270" fill="none" stroke="#000" stroke-width="1.2"/>
</svg></body></html>
